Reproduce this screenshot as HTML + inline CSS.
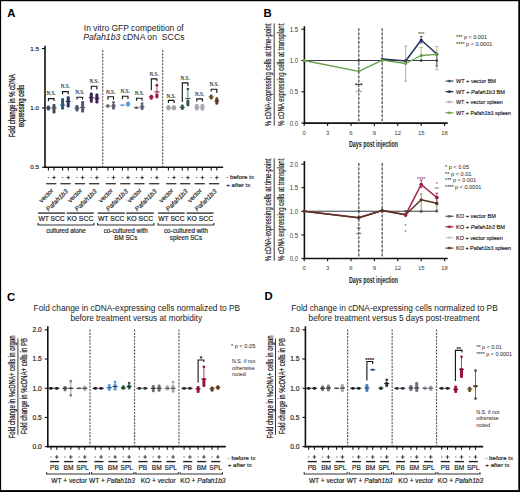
<!DOCTYPE html><html><head><meta charset="utf-8"><style>html,body{margin:0;padding:0;background:#fff;}svg{display:block;}</style></head><body>
<svg width="520" height="492" viewBox="0 0 520 492" font-family='"Liberation Sans", sans-serif'>
<rect x="0" y="0" width="520" height="492" fill="#fff"/>
<rect x="0" y="0" width="520" height="1.2" fill="#000"/><rect x="0" y="0" width="1.1" height="492" fill="#000"/><rect x="518.3" y="0" width="1.7" height="492" fill="#000"/><rect x="0" y="490.1" width="520" height="1.9" fill="#000"/>
<text x="7.30" y="17.20" font-size="11.3" text-anchor="start" fill="#000" font-weight="bold">A</text>
<text x="263.60" y="17.40" font-size="11.3" text-anchor="start" fill="#000" font-weight="bold">B</text>
<text x="7.00" y="300.60" font-size="11.3" text-anchor="start" fill="#000" font-weight="bold">C</text>
<text x="264.60" y="300.20" font-size="11.3" text-anchor="start" fill="#000" font-weight="bold">D</text>
<text x="83.80" y="30.60" font-size="8.45" text-anchor="start" fill="#1a1a1a" textLength="99.90" lengthAdjust="spacingAndGlyphs">In vitro GFP competition of</text>
<text x="83.20" y="40.10" font-size="8.45" text-anchor="start" fill="#1a1a1a" textLength="101.30" lengthAdjust="spacingAndGlyphs"><tspan font-style="italic">Pafah1b3</tspan> cDNA on&#160; SCCs</text>
<line x1="45.00" y1="45.70" x2="45.00" y2="167.95" stroke="#111" stroke-width="1.6"/>
<line x1="44.20" y1="167.25" x2="223.20" y2="167.25" stroke="#111" stroke-width="1.6"/>
<line x1="42.00" y1="48.55" x2="45.00" y2="48.55" stroke="#111" stroke-width="1.1"/>
<text x="38.90" y="50.75" font-size="6.2" text-anchor="end" fill="#1a1a1a" textLength="8.60" lengthAdjust="spacingAndGlyphs" stroke="#1a1a1a" stroke-width="0.16">1.5</text>
<line x1="42.00" y1="107.90" x2="45.00" y2="107.90" stroke="#111" stroke-width="1.1"/>
<text x="38.90" y="110.10" font-size="6.2" text-anchor="end" fill="#1a1a1a" textLength="8.60" lengthAdjust="spacingAndGlyphs" stroke="#1a1a1a" stroke-width="0.16">1.0</text>
<line x1="42.00" y1="167.25" x2="45.00" y2="167.25" stroke="#111" stroke-width="1.1"/>
<text x="38.90" y="169.45" font-size="6.2" text-anchor="end" fill="#1a1a1a" textLength="8.60" lengthAdjust="spacingAndGlyphs" stroke="#1a1a1a" stroke-width="0.16">0.5</text>
<g transform="translate(14.80,105.90) rotate(-90)">
<text x="0.00" y="0.00" font-size="8.8" text-anchor="middle" fill="#1a1a1a" textLength="63.00" lengthAdjust="spacingAndGlyphs" stroke="#1a1a1a" stroke-width="0.3">Fold change in % cDNA</text>
</g>
<g transform="translate(24.30,106.00) rotate(-90)">
<text x="0.00" y="0.00" font-size="8.8" text-anchor="middle" fill="#1a1a1a" textLength="42.50" lengthAdjust="spacingAndGlyphs" stroke="#1a1a1a" stroke-width="0.3">expressing cells</text>
</g>
<line x1="102.70" y1="50.00" x2="102.70" y2="167.25" stroke="#606060" stroke-width="1.2" stroke-dasharray="2.1 1.2"/>
<line x1="162.60" y1="50.00" x2="162.60" y2="167.25" stroke="#606060" stroke-width="1.2" stroke-dasharray="2.1 1.2"/>
<rect x="46.90" y="105.50" width="3.0" height="4.90" rx="1.2" fill="#3e4656"/>
<line x1="45.90" y1="108.00" x2="50.90" y2="108.00" stroke="#3e4656" stroke-width="1.1"/>
<rect x="52.50" y="103.90" width="3.0" height="9.60" rx="1.2" fill="#434b5b"/>
<line x1="51.50" y1="108.00" x2="56.50" y2="108.00" stroke="#434b5b" stroke-width="1.1"/>
<path d="M48.40 101.30 V98.60 H54.00 V100.90" fill="none" stroke="#111" stroke-width="1.1"/>
<text x="51.20" y="95.40" font-size="5.4" text-anchor="middle" fill="#111" font-family='"Liberation Serif", serif' textLength="9.20" lengthAdjust="spacingAndGlyphs" stroke="#111" stroke-width="0.1">N.S.</text>
<line x1="48.40" y1="167.25" x2="48.40" y2="170.45" stroke="#111" stroke-width="1.1"/>
<line x1="54.00" y1="167.25" x2="54.00" y2="170.45" stroke="#111" stroke-width="1.1"/>
<line x1="47.70" y1="177.60" x2="49.10" y2="177.60" stroke="#444" stroke-width="0.8"/>
<line x1="52.20" y1="177.60" x2="55.80" y2="177.60" stroke="#1a1a1a" stroke-width="0.8"/>
<line x1="54.00" y1="175.70" x2="54.00" y2="179.50" stroke="#1a1a1a" stroke-width="0.8"/>
<line x1="46.20" y1="183.70" x2="56.40" y2="183.70" stroke="#333" stroke-width="1.3"/>
<g transform="translate(53.80,191.00) rotate(-45)">
<text x="0.00" y="0.00" font-size="6.3" text-anchor="end" fill="#1a1a1a" textLength="17.00" lengthAdjust="spacingAndGlyphs" stroke="#1a1a1a" stroke-width="0.16">vector</text>
</g>
<rect x="61.10" y="98.00" width="3.0" height="11.60" rx="1.2" fill="#2b5a78"/>
<line x1="60.10" y1="105.20" x2="65.10" y2="105.20" stroke="#2b5a78" stroke-width="1.1"/>
<rect x="66.70" y="96.30" width="3.0" height="11.10" rx="1.2" fill="#2b3262"/>
<line x1="65.70" y1="101.40" x2="70.70" y2="101.40" stroke="#2b3262" stroke-width="1.1"/>
<path d="M62.60 94.20 V91.60 H68.20 V94.20" fill="none" stroke="#111" stroke-width="1.1"/>
<text x="65.40" y="87.80" font-size="5.4" text-anchor="middle" fill="#111" font-family='"Liberation Serif", serif' textLength="9.20" lengthAdjust="spacingAndGlyphs" stroke="#111" stroke-width="0.1">N.S.</text>
<line x1="62.60" y1="167.25" x2="62.60" y2="170.45" stroke="#111" stroke-width="1.1"/>
<line x1="68.20" y1="167.25" x2="68.20" y2="170.45" stroke="#111" stroke-width="1.1"/>
<line x1="61.90" y1="177.60" x2="63.30" y2="177.60" stroke="#444" stroke-width="0.8"/>
<line x1="66.40" y1="177.60" x2="70.00" y2="177.60" stroke="#1a1a1a" stroke-width="0.8"/>
<line x1="68.20" y1="175.70" x2="68.20" y2="179.50" stroke="#1a1a1a" stroke-width="0.8"/>
<line x1="60.40" y1="183.70" x2="70.60" y2="183.70" stroke="#333" stroke-width="1.3"/>
<g transform="translate(68.40,191.80) rotate(-45)">
<text x="0.00" y="0.00" font-size="6.3" text-anchor="end" fill="#1a1a1a" font-style="italic" textLength="28.00" lengthAdjust="spacingAndGlyphs" stroke="#1a1a1a" stroke-width="0.16">Pafah1b3</text>
</g>
<rect x="75.50" y="105.00" width="3.0" height="6.40" rx="1.2" fill="#4e4e68"/>
<line x1="74.50" y1="108.20" x2="79.50" y2="108.20" stroke="#4e4e68" stroke-width="1.1"/>
<rect x="81.10" y="101.00" width="3.0" height="11.60" rx="1.2" fill="#555570"/>
<line x1="80.10" y1="107.50" x2="85.10" y2="107.50" stroke="#555570" stroke-width="1.1"/>
<path d="M77.00 99.60 V97.20 H82.60 V99.60" fill="none" stroke="#111" stroke-width="1.1"/>
<text x="79.80" y="94.10" font-size="5.4" text-anchor="middle" fill="#111" font-family='"Liberation Serif", serif' textLength="9.20" lengthAdjust="spacingAndGlyphs" stroke="#111" stroke-width="0.1">N.S.</text>
<line x1="77.00" y1="167.25" x2="77.00" y2="170.45" stroke="#111" stroke-width="1.1"/>
<line x1="82.60" y1="167.25" x2="82.60" y2="170.45" stroke="#111" stroke-width="1.1"/>
<line x1="76.30" y1="177.60" x2="77.70" y2="177.60" stroke="#444" stroke-width="0.8"/>
<line x1="80.80" y1="177.60" x2="84.40" y2="177.60" stroke="#1a1a1a" stroke-width="0.8"/>
<line x1="82.60" y1="175.70" x2="82.60" y2="179.50" stroke="#1a1a1a" stroke-width="0.8"/>
<line x1="74.80" y1="183.70" x2="85.00" y2="183.70" stroke="#333" stroke-width="1.3"/>
<g transform="translate(82.40,191.00) rotate(-45)">
<text x="0.00" y="0.00" font-size="6.3" text-anchor="end" fill="#1a1a1a" textLength="17.00" lengthAdjust="spacingAndGlyphs" stroke="#1a1a1a" stroke-width="0.16">vector</text>
</g>
<rect x="89.80" y="92.40" width="3.0" height="10.40" rx="1.2" fill="#3e2454"/>
<line x1="88.80" y1="97.60" x2="93.80" y2="97.60" stroke="#3e2454" stroke-width="1.1"/>
<rect x="95.40" y="93.60" width="3.0" height="9.80" rx="1.2" fill="#3a2050"/>
<line x1="94.40" y1="98.40" x2="99.40" y2="98.40" stroke="#3a2050" stroke-width="1.1"/>
<path d="M91.30 89.40 V86.30 H96.90 V89.40" fill="none" stroke="#111" stroke-width="1.1"/>
<text x="94.10" y="83.30" font-size="5.4" text-anchor="middle" fill="#111" font-family='"Liberation Serif", serif' textLength="9.20" lengthAdjust="spacingAndGlyphs" stroke="#111" stroke-width="0.1">N.S.</text>
<line x1="91.30" y1="167.25" x2="91.30" y2="170.45" stroke="#111" stroke-width="1.1"/>
<line x1="96.90" y1="167.25" x2="96.90" y2="170.45" stroke="#111" stroke-width="1.1"/>
<line x1="90.60" y1="177.60" x2="92.00" y2="177.60" stroke="#444" stroke-width="0.8"/>
<line x1="95.10" y1="177.60" x2="98.70" y2="177.60" stroke="#1a1a1a" stroke-width="0.8"/>
<line x1="96.90" y1="175.70" x2="96.90" y2="179.50" stroke="#1a1a1a" stroke-width="0.8"/>
<line x1="89.10" y1="183.70" x2="99.30" y2="183.70" stroke="#333" stroke-width="1.3"/>
<g transform="translate(97.10,191.80) rotate(-45)">
<text x="0.00" y="0.00" font-size="6.3" text-anchor="end" fill="#1a1a1a" font-style="italic" textLength="28.00" lengthAdjust="spacingAndGlyphs" stroke="#1a1a1a" stroke-width="0.16">Pafah1b3</text>
</g>
<rect x="106.40" y="104.30" width="3.0" height="3.50" rx="1.2" fill="#5f6470"/>
<line x1="105.40" y1="106.00" x2="110.40" y2="106.00" stroke="#5f6470" stroke-width="1.1"/>
<line x1="113.50" y1="102.00" x2="113.50" y2="109.50" stroke="#606572" stroke-width="0.8"/>
<rect x="112.00" y="103.50" width="3.0" height="6.00" rx="1.2" fill="#606572"/>
<circle cx="113.50" cy="102.30" r="1.35" fill="#606572"/>
<line x1="111.00" y1="106.00" x2="116.00" y2="106.00" stroke="#606572" stroke-width="1.1"/>
<path d="M107.90 99.70 V96.80 H113.50 V99.70" fill="none" stroke="#111" stroke-width="1.1"/>
<text x="110.70" y="94.00" font-size="5.4" text-anchor="middle" fill="#111" font-family='"Liberation Serif", serif' textLength="9.20" lengthAdjust="spacingAndGlyphs" stroke="#111" stroke-width="0.1">N.S.</text>
<line x1="107.90" y1="167.25" x2="107.90" y2="170.45" stroke="#111" stroke-width="1.1"/>
<line x1="113.50" y1="167.25" x2="113.50" y2="170.45" stroke="#111" stroke-width="1.1"/>
<line x1="107.20" y1="177.60" x2="108.60" y2="177.60" stroke="#444" stroke-width="0.8"/>
<line x1="111.70" y1="177.60" x2="115.30" y2="177.60" stroke="#1a1a1a" stroke-width="0.8"/>
<line x1="113.50" y1="175.70" x2="113.50" y2="179.50" stroke="#1a1a1a" stroke-width="0.8"/>
<line x1="105.70" y1="183.70" x2="115.90" y2="183.70" stroke="#333" stroke-width="1.3"/>
<g transform="translate(113.30,191.00) rotate(-45)">
<text x="0.00" y="0.00" font-size="6.3" text-anchor="end" fill="#1a1a1a" textLength="17.00" lengthAdjust="spacingAndGlyphs" stroke="#1a1a1a" stroke-width="0.16">vector</text>
</g>
<rect x="120.90" y="104.30" width="3.0" height="1.90" rx="1.2" fill="#6aa0d2"/>
<line x1="119.90" y1="105.20" x2="124.90" y2="105.20" stroke="#6aa0d2" stroke-width="1.1"/>
<rect x="126.50" y="101.40" width="3.0" height="5.20" rx="1.2" fill="#5a90c8"/>
<line x1="125.50" y1="104.00" x2="130.50" y2="104.00" stroke="#5a90c8" stroke-width="1.1"/>
<path d="M122.40 99.00 V96.30 H128.00 V99.00" fill="none" stroke="#111" stroke-width="1.1"/>
<text x="125.20" y="93.40" font-size="5.4" text-anchor="middle" fill="#111" font-family='"Liberation Serif", serif' textLength="9.20" lengthAdjust="spacingAndGlyphs" stroke="#111" stroke-width="0.1">N.S.</text>
<line x1="122.40" y1="167.25" x2="122.40" y2="170.45" stroke="#111" stroke-width="1.1"/>
<line x1="128.00" y1="167.25" x2="128.00" y2="170.45" stroke="#111" stroke-width="1.1"/>
<line x1="121.70" y1="177.60" x2="123.10" y2="177.60" stroke="#444" stroke-width="0.8"/>
<line x1="126.20" y1="177.60" x2="129.80" y2="177.60" stroke="#1a1a1a" stroke-width="0.8"/>
<line x1="128.00" y1="175.70" x2="128.00" y2="179.50" stroke="#1a1a1a" stroke-width="0.8"/>
<line x1="120.20" y1="183.70" x2="130.40" y2="183.70" stroke="#333" stroke-width="1.3"/>
<g transform="translate(128.20,191.80) rotate(-45)">
<text x="0.00" y="0.00" font-size="6.3" text-anchor="end" fill="#1a1a1a" font-style="italic" textLength="28.00" lengthAdjust="spacingAndGlyphs" stroke="#1a1a1a" stroke-width="0.16">Pafah1b3</text>
</g>
<rect x="135.00" y="106.60" width="3.0" height="2.20" rx="1.2" fill="#5a5a6a"/>
<line x1="134.00" y1="107.80" x2="139.00" y2="107.80" stroke="#5a5a6a" stroke-width="1.1"/>
<line x1="142.10" y1="103.20" x2="142.10" y2="110.00" stroke="#5e6070" stroke-width="0.8"/>
<rect x="140.60" y="104.50" width="3.0" height="5.50" rx="1.2" fill="#5e6070"/>
<circle cx="142.10" cy="103.60" r="1.35" fill="#5e6070"/>
<line x1="139.60" y1="107.00" x2="144.60" y2="107.00" stroke="#5e6070" stroke-width="1.1"/>
<path d="M136.50 100.80 V98.20 H142.10 V100.80" fill="none" stroke="#111" stroke-width="1.1"/>
<text x="139.30" y="94.60" font-size="5.4" text-anchor="middle" fill="#111" font-family='"Liberation Serif", serif' textLength="9.20" lengthAdjust="spacingAndGlyphs" stroke="#111" stroke-width="0.1">N.S.</text>
<line x1="136.50" y1="167.25" x2="136.50" y2="170.45" stroke="#111" stroke-width="1.1"/>
<line x1="142.10" y1="167.25" x2="142.10" y2="170.45" stroke="#111" stroke-width="1.1"/>
<line x1="135.80" y1="177.60" x2="137.20" y2="177.60" stroke="#444" stroke-width="0.8"/>
<line x1="140.30" y1="177.60" x2="143.90" y2="177.60" stroke="#1a1a1a" stroke-width="0.8"/>
<line x1="142.10" y1="175.70" x2="142.10" y2="179.50" stroke="#1a1a1a" stroke-width="0.8"/>
<line x1="134.30" y1="183.70" x2="144.50" y2="183.70" stroke="#333" stroke-width="1.3"/>
<g transform="translate(141.90,191.00) rotate(-45)">
<text x="0.00" y="0.00" font-size="6.3" text-anchor="end" fill="#1a1a1a" textLength="17.00" lengthAdjust="spacingAndGlyphs" stroke="#1a1a1a" stroke-width="0.16">vector</text>
</g>
<rect x="149.80" y="94.80" width="3.0" height="5.00" rx="1.2" fill="#9a1840"/>
<line x1="148.80" y1="96.90" x2="153.80" y2="96.90" stroke="#9a1840" stroke-width="1.1"/>
<line x1="156.90" y1="85.20" x2="156.90" y2="98.20" stroke="#9a1840" stroke-width="0.8"/>
<rect x="155.40" y="93.50" width="3.0" height="4.70" rx="1.2" fill="#9a1840"/>
<circle cx="156.90" cy="85.20" r="1.35" fill="#9a1840"/>
<line x1="154.40" y1="91.90" x2="159.40" y2="91.90" stroke="#9a1840" stroke-width="1.1"/>
<path d="M151.30 90.30 V78.90 H156.90 V81.30" fill="none" stroke="#111" stroke-width="1.1"/>
<text x="154.10" y="76.10" font-size="5.4" text-anchor="middle" fill="#111" font-family='"Liberation Serif", serif' textLength="9.20" lengthAdjust="spacingAndGlyphs" stroke="#111" stroke-width="0.1">N.S.</text>
<line x1="151.30" y1="167.25" x2="151.30" y2="170.45" stroke="#111" stroke-width="1.1"/>
<line x1="156.90" y1="167.25" x2="156.90" y2="170.45" stroke="#111" stroke-width="1.1"/>
<line x1="150.60" y1="177.60" x2="152.00" y2="177.60" stroke="#444" stroke-width="0.8"/>
<line x1="155.10" y1="177.60" x2="158.70" y2="177.60" stroke="#1a1a1a" stroke-width="0.8"/>
<line x1="156.90" y1="175.70" x2="156.90" y2="179.50" stroke="#1a1a1a" stroke-width="0.8"/>
<line x1="149.10" y1="183.70" x2="159.30" y2="183.70" stroke="#333" stroke-width="1.3"/>
<g transform="translate(157.10,191.80) rotate(-45)">
<text x="0.00" y="0.00" font-size="6.3" text-anchor="end" fill="#1a1a1a" font-style="italic" textLength="28.00" lengthAdjust="spacingAndGlyphs" stroke="#1a1a1a" stroke-width="0.16">Pafah1b3</text>
</g>
<line x1="168.40" y1="107.90" x2="174.00" y2="107.90" stroke="#a0a0a8" stroke-width="0.9"/>
<rect x="166.60" y="105.20" width="3.6" height="5.10" rx="1.2" fill="#a0a0a8"/>
<line x1="165.90" y1="107.90" x2="170.90" y2="107.90" stroke="#a0a0a8" stroke-width="1.1"/>
<rect x="172.20" y="105.20" width="3.6" height="5.10" rx="1.2" fill="#a0a0a8"/>
<line x1="171.50" y1="107.90" x2="176.50" y2="107.90" stroke="#a0a0a8" stroke-width="1.1"/>
<path d="M168.40 103.00 V100.40 H174.00 V103.00" fill="none" stroke="#111" stroke-width="1.1"/>
<text x="171.20" y="97.60" font-size="5.4" text-anchor="middle" fill="#111" font-family='"Liberation Serif", serif' textLength="9.20" lengthAdjust="spacingAndGlyphs" stroke="#111" stroke-width="0.1">N.S.</text>
<line x1="168.40" y1="167.25" x2="168.40" y2="170.45" stroke="#111" stroke-width="1.1"/>
<line x1="174.00" y1="167.25" x2="174.00" y2="170.45" stroke="#111" stroke-width="1.1"/>
<line x1="167.70" y1="177.60" x2="169.10" y2="177.60" stroke="#444" stroke-width="0.8"/>
<line x1="172.20" y1="177.60" x2="175.80" y2="177.60" stroke="#1a1a1a" stroke-width="0.8"/>
<line x1="174.00" y1="175.70" x2="174.00" y2="179.50" stroke="#1a1a1a" stroke-width="0.8"/>
<line x1="166.20" y1="183.70" x2="176.40" y2="183.70" stroke="#333" stroke-width="1.3"/>
<g transform="translate(173.80,191.00) rotate(-45)">
<text x="0.00" y="0.00" font-size="6.3" text-anchor="end" fill="#1a1a1a" textLength="17.00" lengthAdjust="spacingAndGlyphs" stroke="#1a1a1a" stroke-width="0.16">vector</text>
</g>
<rect x="180.80" y="104.50" width="3.0" height="5.50" rx="1.2" fill="#2c5a4c"/>
<line x1="179.80" y1="107.30" x2="184.80" y2="107.30" stroke="#2c5a4c" stroke-width="1.1"/>
<line x1="187.90" y1="88.20" x2="187.90" y2="106.20" stroke="#2c5a4c" stroke-width="0.8"/>
<rect x="186.40" y="100.00" width="3.0" height="6.20" rx="1.2" fill="#2c5a4c"/>
<circle cx="187.90" cy="89.00" r="1.35" fill="#2c5a4c"/>
<line x1="185.40" y1="98.60" x2="190.40" y2="98.60" stroke="#2c5a4c" stroke-width="1.1"/>
<path d="M182.30 101.90 V82.90 H187.90 V86.00" fill="none" stroke="#111" stroke-width="1.1"/>
<text x="185.10" y="79.50" font-size="5.4" text-anchor="middle" fill="#111" font-family='"Liberation Serif", serif' textLength="9.20" lengthAdjust="spacingAndGlyphs" stroke="#111" stroke-width="0.1">N.S.</text>
<line x1="182.30" y1="167.25" x2="182.30" y2="170.45" stroke="#111" stroke-width="1.1"/>
<line x1="187.90" y1="167.25" x2="187.90" y2="170.45" stroke="#111" stroke-width="1.1"/>
<line x1="181.60" y1="177.60" x2="183.00" y2="177.60" stroke="#444" stroke-width="0.8"/>
<line x1="186.10" y1="177.60" x2="189.70" y2="177.60" stroke="#1a1a1a" stroke-width="0.8"/>
<line x1="187.90" y1="175.70" x2="187.90" y2="179.50" stroke="#1a1a1a" stroke-width="0.8"/>
<line x1="180.10" y1="183.70" x2="190.30" y2="183.70" stroke="#333" stroke-width="1.3"/>
<g transform="translate(188.10,191.80) rotate(-45)">
<text x="0.00" y="0.00" font-size="6.3" text-anchor="end" fill="#1a1a1a" font-style="italic" textLength="28.00" lengthAdjust="spacingAndGlyphs" stroke="#1a1a1a" stroke-width="0.16">Pafah1b3</text>
</g>
<line x1="196.80" y1="107.30" x2="202.40" y2="107.30" stroke="#a8a8b8" stroke-width="0.9"/>
<rect x="195.00" y="104.00" width="3.6" height="6.50" rx="1.2" fill="#a8a8b8"/>
<line x1="194.30" y1="107.30" x2="199.30" y2="107.30" stroke="#a8a8b8" stroke-width="1.1"/>
<rect x="200.60" y="104.00" width="3.6" height="6.50" rx="1.2" fill="#a8a8b8"/>
<line x1="199.90" y1="107.30" x2="204.90" y2="107.30" stroke="#a8a8b8" stroke-width="1.1"/>
<path d="M196.80 101.50 V98.90 H202.40 V101.50" fill="none" stroke="#111" stroke-width="1.1"/>
<text x="199.60" y="96.00" font-size="5.4" text-anchor="middle" fill="#111" font-family='"Liberation Serif", serif' textLength="9.20" lengthAdjust="spacingAndGlyphs" stroke="#111" stroke-width="0.1">N.S.</text>
<line x1="196.80" y1="167.25" x2="196.80" y2="170.45" stroke="#111" stroke-width="1.1"/>
<line x1="202.40" y1="167.25" x2="202.40" y2="170.45" stroke="#111" stroke-width="1.1"/>
<line x1="196.10" y1="177.60" x2="197.50" y2="177.60" stroke="#444" stroke-width="0.8"/>
<line x1="200.60" y1="177.60" x2="204.20" y2="177.60" stroke="#1a1a1a" stroke-width="0.8"/>
<line x1="202.40" y1="175.70" x2="202.40" y2="179.50" stroke="#1a1a1a" stroke-width="0.8"/>
<line x1="194.60" y1="183.70" x2="204.80" y2="183.70" stroke="#333" stroke-width="1.3"/>
<g transform="translate(202.20,191.00) rotate(-45)">
<text x="0.00" y="0.00" font-size="6.3" text-anchor="end" fill="#1a1a1a" textLength="17.00" lengthAdjust="spacingAndGlyphs" stroke="#1a1a1a" stroke-width="0.16">vector</text>
</g>
<rect x="209.70" y="94.50" width="3.0" height="5.00" rx="1.2" fill="#6e4820"/>
<line x1="208.70" y1="96.90" x2="213.70" y2="96.90" stroke="#6e4820" stroke-width="1.1"/>
<line x1="216.80" y1="96.90" x2="216.80" y2="104.60" stroke="#5a3a18" stroke-width="0.8"/>
<rect x="215.30" y="97.50" width="3.0" height="7.10" rx="1.2" fill="#5a3a18"/>
<line x1="214.30" y1="101.00" x2="219.30" y2="101.00" stroke="#5a3a18" stroke-width="1.1"/>
<path d="M211.20 91.40 V89.30 H216.80 V93.00" fill="none" stroke="#111" stroke-width="1.1"/>
<text x="214.00" y="86.10" font-size="5.4" text-anchor="middle" fill="#111" font-family='"Liberation Serif", serif' textLength="9.20" lengthAdjust="spacingAndGlyphs" stroke="#111" stroke-width="0.1">N.S.</text>
<line x1="211.20" y1="167.25" x2="211.20" y2="170.45" stroke="#111" stroke-width="1.1"/>
<line x1="216.80" y1="167.25" x2="216.80" y2="170.45" stroke="#111" stroke-width="1.1"/>
<line x1="210.50" y1="177.60" x2="211.90" y2="177.60" stroke="#444" stroke-width="0.8"/>
<line x1="215.00" y1="177.60" x2="218.60" y2="177.60" stroke="#1a1a1a" stroke-width="0.8"/>
<line x1="216.80" y1="175.70" x2="216.80" y2="179.50" stroke="#1a1a1a" stroke-width="0.8"/>
<line x1="209.00" y1="183.70" x2="219.20" y2="183.70" stroke="#333" stroke-width="1.3"/>
<g transform="translate(217.00,191.80) rotate(-45)">
<text x="0.00" y="0.00" font-size="6.3" text-anchor="end" fill="#1a1a1a" font-style="italic" textLength="28.00" lengthAdjust="spacingAndGlyphs" stroke="#1a1a1a" stroke-width="0.16">Pafah1b3</text>
</g>
<line x1="38.10" y1="213.10" x2="65.00" y2="213.10" stroke="#333" stroke-width="1.4"/>
<text x="51.55" y="220.90" font-size="6.6" text-anchor="middle" fill="#1a1a1a" textLength="26.30" lengthAdjust="spacingAndGlyphs" stroke="#1a1a1a" stroke-width="0.16">WT SCC</text>
<line x1="66.70" y1="213.10" x2="93.70" y2="213.10" stroke="#333" stroke-width="1.4"/>
<text x="80.20" y="220.90" font-size="6.6" text-anchor="middle" fill="#1a1a1a" textLength="26.30" lengthAdjust="spacingAndGlyphs" stroke="#1a1a1a" stroke-width="0.16">KO SCC</text>
<line x1="97.60" y1="213.10" x2="124.80" y2="213.10" stroke="#333" stroke-width="1.4"/>
<text x="111.20" y="220.90" font-size="6.6" text-anchor="middle" fill="#1a1a1a" textLength="26.30" lengthAdjust="spacingAndGlyphs" stroke="#1a1a1a" stroke-width="0.16">WT SCC</text>
<line x1="126.20" y1="213.10" x2="153.70" y2="213.10" stroke="#333" stroke-width="1.4"/>
<text x="139.95" y="220.90" font-size="6.6" text-anchor="middle" fill="#1a1a1a" textLength="26.30" lengthAdjust="spacingAndGlyphs" stroke="#1a1a1a" stroke-width="0.16">KO SCC</text>
<line x1="158.10" y1="213.10" x2="184.70" y2="213.10" stroke="#333" stroke-width="1.4"/>
<text x="171.40" y="220.90" font-size="6.6" text-anchor="middle" fill="#1a1a1a" textLength="26.30" lengthAdjust="spacingAndGlyphs" stroke="#1a1a1a" stroke-width="0.16">WT SCC</text>
<line x1="186.50" y1="213.10" x2="213.60" y2="213.10" stroke="#333" stroke-width="1.4"/>
<text x="200.05" y="220.90" font-size="6.6" text-anchor="middle" fill="#1a1a1a" textLength="26.30" lengthAdjust="spacingAndGlyphs" stroke="#1a1a1a" stroke-width="0.16">KO SCC</text>
<path d="M38.10 223.0 V225.0 H93.90 V223.0" fill="none" stroke="#333" stroke-width="1.2"/>
<text x="66.00" y="232.80" font-size="6.3" text-anchor="middle" fill="#1a1a1a" stroke="#1a1a1a" stroke-width="0.16">cultured alone</text>
<path d="M97.60 223.0 V225.0 H153.90 V223.0" fill="none" stroke="#333" stroke-width="1.2"/>
<text x="125.75" y="232.80" font-size="6.3" text-anchor="middle" fill="#1a1a1a" stroke="#1a1a1a" stroke-width="0.16">co-cultured with</text>
<text x="125.75" y="240.40" font-size="6.3" text-anchor="middle" fill="#1a1a1a" stroke="#1a1a1a" stroke-width="0.16">BM SCs</text>
<path d="M158.10 223.0 V225.0 H213.80 V223.0" fill="none" stroke="#333" stroke-width="1.2"/>
<text x="185.95" y="232.80" font-size="6.3" text-anchor="middle" fill="#1a1a1a" stroke="#1a1a1a" stroke-width="0.16">co-cultured with</text>
<text x="185.95" y="240.40" font-size="6.3" text-anchor="middle" fill="#1a1a1a" stroke="#1a1a1a" stroke-width="0.16">spleen SCs</text>
<text x="226.20" y="179.20" font-size="6.2" text-anchor="start" fill="#1a1a1a" stroke="#1a1a1a" stroke-width="0.16">- before tx</text>
<text x="226.20" y="187.00" font-size="6.2" text-anchor="start" fill="#1a1a1a" stroke="#1a1a1a" stroke-width="0.16">+ after tx</text>
<line x1="304.40" y1="26.20" x2="304.40" y2="123.80" stroke="#111" stroke-width="1.6"/>
<line x1="303.60" y1="123.10" x2="447.70" y2="123.10" stroke="#111" stroke-width="1.6"/>
<line x1="301.40" y1="29.20" x2="304.40" y2="29.20" stroke="#111" stroke-width="1.1"/>
<text x="298.00" y="31.80" font-size="6.3" text-anchor="end" fill="#383838" textLength="8.30" lengthAdjust="spacingAndGlyphs">1.5</text>
<line x1="301.40" y1="60.50" x2="304.40" y2="60.50" stroke="#111" stroke-width="1.1"/>
<text x="298.00" y="63.10" font-size="6.3" text-anchor="end" fill="#383838" textLength="8.30" lengthAdjust="spacingAndGlyphs">1.0</text>
<line x1="301.40" y1="91.80" x2="304.40" y2="91.80" stroke="#111" stroke-width="1.1"/>
<text x="298.00" y="94.40" font-size="6.3" text-anchor="end" fill="#383838" textLength="8.30" lengthAdjust="spacingAndGlyphs">0.5</text>
<line x1="301.40" y1="123.10" x2="304.40" y2="123.10" stroke="#111" stroke-width="1.1"/>
<text x="298.00" y="125.70" font-size="6.3" text-anchor="end" fill="#383838" textLength="8.30" lengthAdjust="spacingAndGlyphs">0.0</text>
<line x1="304.20" y1="123.10" x2="304.20" y2="125.90" stroke="#111" stroke-width="1.1"/>
<text x="304.20" y="135.00" font-size="5.9" text-anchor="middle" fill="#383838">0</text>
<line x1="327.60" y1="123.10" x2="327.60" y2="125.90" stroke="#111" stroke-width="1.1"/>
<text x="327.60" y="135.00" font-size="5.9" text-anchor="middle" fill="#383838">3</text>
<line x1="351.00" y1="123.10" x2="351.00" y2="125.90" stroke="#111" stroke-width="1.1"/>
<text x="351.00" y="135.00" font-size="5.9" text-anchor="middle" fill="#383838">6</text>
<line x1="374.40" y1="123.10" x2="374.40" y2="125.90" stroke="#111" stroke-width="1.1"/>
<text x="374.40" y="135.00" font-size="5.9" text-anchor="middle" fill="#383838">9</text>
<line x1="397.80" y1="123.10" x2="397.80" y2="125.90" stroke="#111" stroke-width="1.1"/>
<text x="397.80" y="135.00" font-size="5.9" text-anchor="middle" fill="#383838">12</text>
<line x1="421.20" y1="123.10" x2="421.20" y2="125.90" stroke="#111" stroke-width="1.1"/>
<text x="421.20" y="135.00" font-size="5.9" text-anchor="middle" fill="#383838">15</text>
<line x1="444.60" y1="123.10" x2="444.60" y2="125.90" stroke="#111" stroke-width="1.1"/>
<text x="444.60" y="135.00" font-size="5.9" text-anchor="middle" fill="#383838">18</text>
<text x="373.50" y="147.10" font-size="9.0" text-anchor="middle" fill="#1a1a1a" font-weight="bold" textLength="49.00" lengthAdjust="spacingAndGlyphs">Days post injection</text>
<line x1="358.80" y1="28.20" x2="358.80" y2="123.10" stroke="#d4d4d4" stroke-width="0.7"/>
<line x1="358.80" y1="28.20" x2="358.80" y2="123.10" stroke="#505050" stroke-width="1.2" stroke-dasharray="2.8 1.5"/>
<line x1="382.20" y1="28.20" x2="382.20" y2="123.10" stroke="#d4d4d4" stroke-width="0.7"/>
<line x1="382.20" y1="28.20" x2="382.20" y2="123.10" stroke="#505050" stroke-width="1.2" stroke-dasharray="2.8 1.5"/>
<g transform="translate(271.10,74.85) rotate(-90)">
<text x="0.00" y="0.00" font-size="8.7" text-anchor="middle" fill="#1a1a1a" textLength="102.70" lengthAdjust="spacingAndGlyphs" stroke="#1a1a1a" stroke-width="0.18">% cDNA-expressing cells at time-point</text>
</g>
<g transform="translate(283.50,74.85) rotate(-90)">
<text x="0.00" y="0.00" font-size="8.7" text-anchor="middle" fill="#1a1a1a" textLength="102.40" lengthAdjust="spacingAndGlyphs" stroke="#1a1a1a" stroke-width="0.18">% cDNA expressing cells at transplant</text>
</g>
<line x1="274.20" y1="23.35" x2="274.20" y2="125.85" stroke="#222" stroke-width="0.9"/>
<line x1="304.40" y1="161.10" x2="304.40" y2="259.20" stroke="#111" stroke-width="1.6"/>
<line x1="303.60" y1="258.50" x2="447.70" y2="258.50" stroke="#111" stroke-width="1.6"/>
<line x1="301.40" y1="164.10" x2="304.40" y2="164.10" stroke="#111" stroke-width="1.1"/>
<text x="298.00" y="166.70" font-size="6.3" text-anchor="end" fill="#383838" textLength="8.30" lengthAdjust="spacingAndGlyphs">2.0</text>
<line x1="301.40" y1="187.70" x2="304.40" y2="187.70" stroke="#111" stroke-width="1.1"/>
<text x="298.00" y="190.30" font-size="6.3" text-anchor="end" fill="#383838" textLength="8.30" lengthAdjust="spacingAndGlyphs">1.5</text>
<line x1="301.40" y1="211.30" x2="304.40" y2="211.30" stroke="#111" stroke-width="1.1"/>
<text x="298.00" y="213.90" font-size="6.3" text-anchor="end" fill="#383838" textLength="8.30" lengthAdjust="spacingAndGlyphs">1.0</text>
<line x1="301.40" y1="234.90" x2="304.40" y2="234.90" stroke="#111" stroke-width="1.1"/>
<text x="298.00" y="237.50" font-size="6.3" text-anchor="end" fill="#383838" textLength="8.30" lengthAdjust="spacingAndGlyphs">0.5</text>
<line x1="301.40" y1="258.50" x2="304.40" y2="258.50" stroke="#111" stroke-width="1.1"/>
<text x="298.00" y="261.10" font-size="6.3" text-anchor="end" fill="#383838" textLength="8.30" lengthAdjust="spacingAndGlyphs">0.0</text>
<line x1="304.20" y1="258.50" x2="304.20" y2="261.30" stroke="#111" stroke-width="1.1"/>
<text x="304.20" y="270.40" font-size="5.9" text-anchor="middle" fill="#383838">0</text>
<line x1="327.60" y1="258.50" x2="327.60" y2="261.30" stroke="#111" stroke-width="1.1"/>
<text x="327.60" y="270.40" font-size="5.9" text-anchor="middle" fill="#383838">3</text>
<line x1="351.00" y1="258.50" x2="351.00" y2="261.30" stroke="#111" stroke-width="1.1"/>
<text x="351.00" y="270.40" font-size="5.9" text-anchor="middle" fill="#383838">6</text>
<line x1="374.40" y1="258.50" x2="374.40" y2="261.30" stroke="#111" stroke-width="1.1"/>
<text x="374.40" y="270.40" font-size="5.9" text-anchor="middle" fill="#383838">9</text>
<line x1="397.80" y1="258.50" x2="397.80" y2="261.30" stroke="#111" stroke-width="1.1"/>
<text x="397.80" y="270.40" font-size="5.9" text-anchor="middle" fill="#383838">12</text>
<line x1="421.20" y1="258.50" x2="421.20" y2="261.30" stroke="#111" stroke-width="1.1"/>
<text x="421.20" y="270.40" font-size="5.9" text-anchor="middle" fill="#383838">15</text>
<line x1="444.60" y1="258.50" x2="444.60" y2="261.30" stroke="#111" stroke-width="1.1"/>
<text x="444.60" y="270.40" font-size="5.9" text-anchor="middle" fill="#383838">18</text>
<text x="373.50" y="282.50" font-size="9.0" text-anchor="middle" fill="#1a1a1a" font-weight="bold" textLength="49.00" lengthAdjust="spacingAndGlyphs">Days post injection</text>
<line x1="358.80" y1="163.10" x2="358.80" y2="258.50" stroke="#d4d4d4" stroke-width="0.7"/>
<line x1="358.80" y1="163.10" x2="358.80" y2="258.50" stroke="#505050" stroke-width="1.2" stroke-dasharray="2.8 1.5"/>
<line x1="382.20" y1="163.10" x2="382.20" y2="258.50" stroke="#d4d4d4" stroke-width="0.7"/>
<line x1="382.20" y1="163.10" x2="382.20" y2="258.50" stroke="#505050" stroke-width="1.2" stroke-dasharray="2.8 1.5"/>
<g transform="translate(271.10,209.85) rotate(-90)">
<text x="0.00" y="0.00" font-size="8.7" text-anchor="middle" fill="#1a1a1a" textLength="102.70" lengthAdjust="spacingAndGlyphs" stroke="#1a1a1a" stroke-width="0.18">% cDNA-expressing cells at time-point</text>
</g>
<g transform="translate(283.50,209.85) rotate(-90)">
<text x="0.00" y="0.00" font-size="8.7" text-anchor="middle" fill="#1a1a1a" textLength="102.40" lengthAdjust="spacingAndGlyphs" stroke="#1a1a1a" stroke-width="0.18">% cDNA expressing cells at transplant</text>
</g>
<line x1="274.20" y1="158.35" x2="274.20" y2="260.85" stroke="#222" stroke-width="0.9"/>
<line x1="405.60" y1="46.00" x2="405.60" y2="81.20" stroke="#8ab060" stroke-width="0.8"/>
<line x1="404.10" y1="46.00" x2="407.10" y2="46.00" stroke="#8ab060" stroke-width="0.8"/>
<line x1="404.10" y1="81.20" x2="407.10" y2="81.20" stroke="#8ab060" stroke-width="0.8"/>
<line x1="421.20" y1="47.40" x2="421.20" y2="61.00" stroke="#8ab060" stroke-width="0.8"/>
<line x1="419.70" y1="47.40" x2="422.70" y2="47.40" stroke="#8ab060" stroke-width="0.8"/>
<line x1="419.70" y1="61.00" x2="422.70" y2="61.00" stroke="#8ab060" stroke-width="0.8"/>
<line x1="436.80" y1="46.50" x2="436.80" y2="69.60" stroke="#8ab060" stroke-width="0.8"/>
<line x1="435.30" y1="46.50" x2="438.30" y2="46.50" stroke="#8ab060" stroke-width="0.8"/>
<line x1="435.30" y1="69.60" x2="438.30" y2="69.60" stroke="#8ab060" stroke-width="0.8"/>
<line x1="436.80" y1="55.00" x2="436.80" y2="66.00" stroke="#444c5c" stroke-width="0.8"/>
<line x1="435.30" y1="55.00" x2="438.30" y2="55.00" stroke="#444c5c" stroke-width="0.8"/>
<line x1="435.30" y1="66.00" x2="438.30" y2="66.00" stroke="#444c5c" stroke-width="0.8"/>
<line x1="421.20" y1="36.50" x2="421.20" y2="43.00" stroke="#2a3a60" stroke-width="0.8"/>
<line x1="419.70" y1="36.50" x2="422.70" y2="36.50" stroke="#2a3a60" stroke-width="0.8"/>
<line x1="419.70" y1="43.00" x2="422.70" y2="43.00" stroke="#2a3a60" stroke-width="0.8"/>
<path d="M382.20 59.00 L405.60 61.00 L421.20 40.00 L436.80 54.00" fill="none" stroke="#223260" stroke-width="1.5" stroke-linejoin="round"/>
<circle cx="382.20" cy="59.00" r="1.6" fill="#223260"/>
<circle cx="405.60" cy="61.00" r="1.6" fill="#223260"/>
<circle cx="421.20" cy="40.00" r="1.6" fill="#223260"/>
<circle cx="436.80" cy="54.00" r="1.6" fill="#223260"/>
<path d="M304.20 60.50 L358.80 60.50 L382.20 60.50 L405.60 60.50 L421.20 60.50 L436.80 60.50" fill="none" stroke="#b5b5b5" stroke-width="1.0" stroke-linejoin="round"/>
<circle cx="304.20" cy="60.50" r="1.0" fill="#b5b5b5"/>
<circle cx="358.80" cy="60.50" r="1.0" fill="#b5b5b5"/>
<circle cx="382.20" cy="60.50" r="1.0" fill="#b5b5b5"/>
<circle cx="405.60" cy="60.50" r="1.0" fill="#b5b5b5"/>
<circle cx="421.20" cy="60.50" r="1.0" fill="#b5b5b5"/>
<circle cx="436.80" cy="60.50" r="1.0" fill="#b5b5b5"/>
<path d="M304.20 60.50 L358.80 60.50 L382.20 60.50 L405.60 60.50 L421.20 60.50 L436.80 60.50" fill="none" stroke="#383e4c" stroke-width="1.1" stroke-linejoin="round"/>
<circle cx="304.20" cy="60.50" r="1.3" fill="#383e4c"/>
<circle cx="358.80" cy="60.50" r="1.3" fill="#383e4c"/>
<circle cx="382.20" cy="60.50" r="1.3" fill="#383e4c"/>
<circle cx="405.60" cy="60.50" r="1.3" fill="#383e4c"/>
<circle cx="421.20" cy="60.50" r="1.3" fill="#383e4c"/>
<circle cx="436.80" cy="60.50" r="1.3" fill="#383e4c"/>
<path d="M304.20 60.50 L358.80 71.30 L382.20 60.20 L405.60 63.50 L421.20 55.50 L436.80 54.30" fill="none" stroke="#64a048" stroke-width="1.3" stroke-linejoin="round"/>
<circle cx="304.20" cy="60.50" r="1.5" fill="#64a048"/>
<circle cx="358.80" cy="71.30" r="1.5" fill="#64a048"/>
<circle cx="382.20" cy="60.20" r="1.5" fill="#64a048"/>
<circle cx="405.60" cy="63.50" r="1.5" fill="#64a048"/>
<circle cx="421.20" cy="55.50" r="1.5" fill="#64a048"/>
<circle cx="436.80" cy="54.30" r="1.5" fill="#64a048"/>
<line x1="355.10" y1="84.30" x2="362.50" y2="84.30" stroke="#2a3450" stroke-width="1.0"/>
<line x1="356.30" y1="83.20" x2="356.30" y2="85.40" stroke="#2a3450" stroke-width="0.7"/>
<line x1="361.30" y1="83.20" x2="361.30" y2="85.40" stroke="#2a3450" stroke-width="0.7"/>
<line x1="355.80" y1="91.50" x2="361.80" y2="91.50" stroke="#a8a890" stroke-width="0.9"/>
<line x1="356.80" y1="90.40" x2="356.80" y2="92.60" stroke="#a8a890" stroke-width="0.7"/>
<line x1="360.80" y1="90.40" x2="360.80" y2="92.60" stroke="#a8a890" stroke-width="0.7"/>
<text x="421.20" y="36.30" font-size="5.5" text-anchor="middle" fill="#223260">***</text>
<text x="456.00" y="39.00" font-size="6.0" text-anchor="start" fill="#1a1a1a" textLength="31.00" lengthAdjust="spacingAndGlyphs">*** p &lt; 0.001</text>
<text x="456.00" y="45.80" font-size="6.0" text-anchor="start" fill="#1a1a1a" textLength="36.30" lengthAdjust="spacingAndGlyphs">**** p &lt; 0.0001</text>
<line x1="445.60" y1="81.10" x2="453.40" y2="81.10" stroke="#4a5264" stroke-width="1.3"/>
<circle cx="449.5" cy="81.1" r="1.4" fill="#4a5264"/>
<text x="456.00" y="83.20" font-size="6.2" text-anchor="start" fill="#1a1a1a" textLength="40.00" lengthAdjust="spacingAndGlyphs" stroke="#1a1a1a" stroke-width="0.16">WT + vector BM</text>
<line x1="445.60" y1="91.70" x2="453.40" y2="91.70" stroke="#223260" stroke-width="1.3"/>
<circle cx="449.5" cy="91.7" r="1.4" fill="#223260"/>
<text x="456.00" y="93.80" font-size="6.2" text-anchor="start" fill="#1a1a1a" textLength="49.00" lengthAdjust="spacingAndGlyphs" stroke="#1a1a1a" stroke-width="0.16">WT + <tspan font-style="italic">Pafah1b3</tspan> BM</text>
<line x1="445.60" y1="102.00" x2="453.40" y2="102.00" stroke="#b5b5b5" stroke-width="1.3"/>
<circle cx="449.5" cy="102.0" r="1.4" fill="#b5b5b5"/>
<text x="456.00" y="104.10" font-size="6.2" text-anchor="start" fill="#1a1a1a" textLength="46.70" lengthAdjust="spacingAndGlyphs" stroke="#1a1a1a" stroke-width="0.16">WT + vector spleen</text>
<line x1="445.60" y1="112.80" x2="453.40" y2="112.80" stroke="#6aa443" stroke-width="1.3"/>
<circle cx="449.5" cy="112.8" r="1.4" fill="#6aa443"/>
<text x="456.00" y="114.90" font-size="6.2" text-anchor="start" fill="#1a1a1a" textLength="55.00" lengthAdjust="spacingAndGlyphs" stroke="#1a1a1a" stroke-width="0.16">WT + Pafah1b3 spleen</text>
<line x1="421.20" y1="194.00" x2="421.20" y2="212.00" stroke="#8a7a30" stroke-width="0.8"/>
<line x1="419.70" y1="194.00" x2="422.70" y2="194.00" stroke="#8a7a30" stroke-width="0.8"/>
<line x1="419.70" y1="212.00" x2="422.70" y2="212.00" stroke="#8a7a30" stroke-width="0.8"/>
<line x1="436.80" y1="197.00" x2="436.80" y2="210.00" stroke="#8a7a30" stroke-width="0.8"/>
<line x1="435.30" y1="197.00" x2="438.30" y2="197.00" stroke="#8a7a30" stroke-width="0.8"/>
<line x1="435.30" y1="210.00" x2="438.30" y2="210.00" stroke="#8a7a30" stroke-width="0.8"/>
<path d="M304.20 211.30 L358.80 211.30 L382.20 211.30 L405.60 211.30 L421.20 211.30 L436.80 211.30" fill="none" stroke="#c0c8c8" stroke-width="1.0" stroke-linejoin="round"/>
<circle cx="304.20" cy="211.30" r="1.0" fill="#c0c8c8"/>
<circle cx="358.80" cy="211.30" r="1.0" fill="#c0c8c8"/>
<circle cx="382.20" cy="211.30" r="1.0" fill="#c0c8c8"/>
<circle cx="405.60" cy="211.30" r="1.0" fill="#c0c8c8"/>
<circle cx="421.20" cy="211.30" r="1.0" fill="#c0c8c8"/>
<circle cx="436.80" cy="211.30" r="1.0" fill="#c0c8c8"/>
<path d="M304.20 211.30 L358.80 211.30 L382.20 211.30 L405.60 211.30 L421.20 211.30 L436.80 211.30" fill="none" stroke="#4a505c" stroke-width="1.1" stroke-linejoin="round"/>
<circle cx="304.20" cy="211.30" r="1.3" fill="#4a505c"/>
<circle cx="358.80" cy="211.30" r="1.3" fill="#4a505c"/>
<circle cx="382.20" cy="211.30" r="1.3" fill="#4a505c"/>
<circle cx="405.60" cy="211.30" r="1.3" fill="#4a505c"/>
<circle cx="421.20" cy="211.30" r="1.3" fill="#4a505c"/>
<circle cx="436.80" cy="211.30" r="1.3" fill="#4a505c"/>
<line x1="421.20" y1="180.00" x2="421.20" y2="187.40" stroke="#a01c48" stroke-width="0.8"/>
<line x1="419.70" y1="180.00" x2="422.70" y2="180.00" stroke="#a01c48" stroke-width="0.8"/>
<line x1="419.70" y1="187.40" x2="422.70" y2="187.40" stroke="#a01c48" stroke-width="0.8"/>
<line x1="436.80" y1="193.20" x2="436.80" y2="204.70" stroke="#a01c48" stroke-width="0.8"/>
<line x1="435.30" y1="193.20" x2="438.30" y2="193.20" stroke="#a01c48" stroke-width="0.8"/>
<line x1="435.30" y1="204.70" x2="438.30" y2="204.70" stroke="#a01c48" stroke-width="0.8"/>
<path d="M304.20 211.30 L358.80 217.70 L382.20 210.50 L405.60 214.80 L421.20 184.50 L436.80 197.50" fill="none" stroke="#a01c48" stroke-width="1.5" stroke-linejoin="round"/>
<circle cx="304.20" cy="211.30" r="1.6" fill="#a01c48"/>
<circle cx="358.80" cy="217.70" r="1.6" fill="#a01c48"/>
<circle cx="382.20" cy="210.50" r="1.6" fill="#a01c48"/>
<circle cx="405.60" cy="214.80" r="1.6" fill="#a01c48"/>
<circle cx="421.20" cy="184.50" r="1.6" fill="#a01c48"/>
<circle cx="436.80" cy="197.50" r="1.6" fill="#a01c48"/>
<path d="M304.20 211.30 L358.80 217.70 L382.20 210.50 L405.60 214.80 L421.20 199.80 L436.80 203.30" fill="none" stroke="#553520" stroke-width="1.5" stroke-linejoin="round"/>
<circle cx="304.20" cy="211.30" r="1.6" fill="#553520"/>
<circle cx="358.80" cy="217.70" r="1.6" fill="#553520"/>
<circle cx="382.20" cy="210.50" r="1.6" fill="#553520"/>
<circle cx="405.60" cy="214.80" r="1.6" fill="#553520"/>
<circle cx="421.20" cy="199.80" r="1.6" fill="#553520"/>
<circle cx="436.80" cy="203.30" r="1.6" fill="#553520"/>
<circle cx="405.60" cy="215.20" r="1.7" fill="#a01c48"/>
<circle cx="421.20" cy="184.50" r="1.7" fill="#a01c48"/>
<circle cx="436.80" cy="197.50" r="1.7" fill="#a01c48"/>
<text x="421.20" y="180.50" font-size="5.5" text-anchor="middle" fill="#a01c48">****</text>
<text x="436.80" y="185.70" font-size="5.5" text-anchor="middle" fill="#a01c48">*</text>
<text x="436.80" y="190.60" font-size="5.5" text-anchor="middle" fill="#a01c48">**</text>
<text x="358.80" y="231.00" font-size="5.0" text-anchor="middle" fill="#503838">**</text>
<line x1="356.20" y1="233.50" x2="361.40" y2="233.50" stroke="#8a7a6a" stroke-width="0.8"/>
<line x1="357.20" y1="232.50" x2="357.20" y2="234.50" stroke="#8a7a6a" stroke-width="0.6"/>
<line x1="360.40" y1="232.50" x2="360.40" y2="234.50" stroke="#8a7a6a" stroke-width="0.6"/>
<text x="405.60" y="228.20" font-size="5.0" text-anchor="middle" fill="#603030">*</text>
<text x="405.60" y="233.90" font-size="5.0" text-anchor="middle" fill="#603030">*</text>
<text x="445.00" y="169.00" font-size="6.0" text-anchor="start" fill="#1a1a1a" textLength="24.00" lengthAdjust="spacingAndGlyphs">* p &lt; 0.05</text>
<text x="445.00" y="175.50" font-size="6.0" text-anchor="start" fill="#1a1a1a" textLength="26.50" lengthAdjust="spacingAndGlyphs">** p &lt; 0.01</text>
<text x="445.00" y="182.00" font-size="6.0" text-anchor="start" fill="#1a1a1a" textLength="31.00" lengthAdjust="spacingAndGlyphs">*** p &lt; 0.001</text>
<text x="445.00" y="188.50" font-size="6.0" text-anchor="start" fill="#1a1a1a" textLength="36.30" lengthAdjust="spacingAndGlyphs">**** p &lt; 0.0001</text>
<line x1="445.60" y1="216.30" x2="453.40" y2="216.30" stroke="#505868" stroke-width="1.3"/>
<circle cx="449.5" cy="216.3" r="1.4" fill="#505868"/>
<text x="456.00" y="218.40" font-size="6.2" text-anchor="start" fill="#1a1a1a" textLength="40.00" lengthAdjust="spacingAndGlyphs" stroke="#1a1a1a" stroke-width="0.16">KO + vector BM</text>
<line x1="445.60" y1="226.80" x2="453.40" y2="226.80" stroke="#a01c48" stroke-width="1.3"/>
<circle cx="449.5" cy="226.8" r="1.4" fill="#a01c48"/>
<text x="456.00" y="228.90" font-size="6.2" text-anchor="start" fill="#1a1a1a" textLength="49.00" lengthAdjust="spacingAndGlyphs" stroke="#1a1a1a" stroke-width="0.16">KO + <tspan font-style="italic">Pafah1b3</tspan> BM</text>
<line x1="445.60" y1="237.60" x2="453.40" y2="237.60" stroke="#c0c8c8" stroke-width="1.3"/>
<circle cx="449.5" cy="237.6" r="1.4" fill="#c0c8c8"/>
<text x="456.00" y="239.70" font-size="6.2" text-anchor="start" fill="#1a1a1a" textLength="46.70" lengthAdjust="spacingAndGlyphs" stroke="#1a1a1a" stroke-width="0.16">KO + vector spleen</text>
<line x1="445.60" y1="248.10" x2="453.40" y2="248.10" stroke="#5a4020" stroke-width="1.3"/>
<circle cx="449.5" cy="248.1" r="1.4" fill="#5a4020"/>
<text x="456.00" y="250.20" font-size="6.2" text-anchor="start" fill="#1a1a1a" textLength="55.00" lengthAdjust="spacingAndGlyphs" stroke="#1a1a1a" stroke-width="0.16">KO + Pafah1b3 spleen</text>
<text x="33.60" y="310.90" font-size="8.4" text-anchor="start" fill="#1a1a1a" textLength="206.50" lengthAdjust="spacingAndGlyphs">Fold change in cDNA-expressing cells normalized to PB</text>
<text x="70.40" y="321.30" font-size="8.4" text-anchor="start" fill="#1a1a1a" textLength="131.60" lengthAdjust="spacingAndGlyphs">before treatment versus at morbidity</text>
<line x1="47.80" y1="326.30" x2="47.80" y2="447.30" stroke="#111" stroke-width="1.6"/>
<line x1="47.00" y1="446.60" x2="225.80" y2="446.60" stroke="#111" stroke-width="1.6"/>
<line x1="44.80" y1="329.80" x2="47.80" y2="329.80" stroke="#111" stroke-width="1.1"/>
<text x="41.80" y="332.10" font-size="6.6" text-anchor="end" fill="#1a1a1a" textLength="9.20" lengthAdjust="spacingAndGlyphs" stroke="#1a1a1a" stroke-width="0.16">2.0</text>
<line x1="44.80" y1="359.00" x2="47.80" y2="359.00" stroke="#111" stroke-width="1.1"/>
<text x="41.80" y="361.30" font-size="6.6" text-anchor="end" fill="#1a1a1a" textLength="9.20" lengthAdjust="spacingAndGlyphs" stroke="#1a1a1a" stroke-width="0.16">1.5</text>
<line x1="44.80" y1="388.20" x2="47.80" y2="388.20" stroke="#111" stroke-width="1.1"/>
<text x="41.80" y="390.50" font-size="6.6" text-anchor="end" fill="#1a1a1a" textLength="9.20" lengthAdjust="spacingAndGlyphs" stroke="#1a1a1a" stroke-width="0.16">1.0</text>
<line x1="44.80" y1="417.40" x2="47.80" y2="417.40" stroke="#111" stroke-width="1.1"/>
<text x="41.80" y="419.70" font-size="6.6" text-anchor="end" fill="#1a1a1a" textLength="9.20" lengthAdjust="spacingAndGlyphs" stroke="#1a1a1a" stroke-width="0.16">0.5</text>
<line x1="44.80" y1="446.60" x2="47.80" y2="446.60" stroke="#111" stroke-width="1.1"/>
<text x="41.80" y="448.90" font-size="6.6" text-anchor="end" fill="#1a1a1a" textLength="9.20" lengthAdjust="spacingAndGlyphs" stroke="#1a1a1a" stroke-width="0.16">0.0</text>
<g transform="translate(14.90,386.90) rotate(-90)">
<text x="0.00" y="0.00" font-size="8.7" text-anchor="middle" fill="#1a1a1a" textLength="103.00" lengthAdjust="spacingAndGlyphs" stroke="#1a1a1a" stroke-width="0.22">Fold change in %cDNA+ cells in organ</text>
</g>
<g transform="translate(27.30,386.10) rotate(-90)">
<text x="0.00" y="0.00" font-size="8.7" text-anchor="middle" fill="#1a1a1a" textLength="96.40" lengthAdjust="spacingAndGlyphs" stroke="#1a1a1a" stroke-width="0.22">Fold change in %cDNA+ cells in PB</text>
</g>
<line x1="17.90" y1="338.50" x2="17.90" y2="434.80" stroke="#222" stroke-width="0.9"/>
<line x1="90.00" y1="329.50" x2="90.00" y2="446.60" stroke="#606060" stroke-width="1.2" stroke-dasharray="2.1 1.2"/>
<line x1="134.55" y1="329.50" x2="134.55" y2="446.60" stroke="#606060" stroke-width="1.2" stroke-dasharray="2.1 1.2"/>
<line x1="178.95" y1="329.50" x2="178.95" y2="446.60" stroke="#606060" stroke-width="1.2" stroke-dasharray="2.1 1.2"/>
<line x1="51.00" y1="446.60" x2="51.00" y2="449.80" stroke="#111" stroke-width="1.1"/>
<line x1="56.80" y1="446.60" x2="56.80" y2="449.80" stroke="#111" stroke-width="1.1"/>
<line x1="50.30" y1="457.00" x2="51.70" y2="457.00" stroke="#444" stroke-width="0.8"/>
<line x1="55.00" y1="457.00" x2="58.60" y2="457.00" stroke="#1a1a1a" stroke-width="0.8"/>
<line x1="56.80" y1="455.10" x2="56.80" y2="458.90" stroke="#1a1a1a" stroke-width="0.8"/>
<line x1="50.10" y1="461.60" x2="59.20" y2="461.60" stroke="#222" stroke-width="1.4"/>
<text x="54.50" y="470.30" font-size="6.6" text-anchor="middle" fill="#1a1a1a" stroke="#1a1a1a" stroke-width="0.16">PB</text>
<rect x="49.40" y="386.90" width="3.2" height="2.80" rx="1.2" fill="#1e1e26"/>
<line x1="48.30" y1="388.30" x2="53.70" y2="388.30" stroke="#1e1e26" stroke-width="1.1"/>
<rect x="55.20" y="386.90" width="3.2" height="2.80" rx="1.2" fill="#1e1e26"/>
<line x1="54.10" y1="388.30" x2="59.50" y2="388.30" stroke="#1e1e26" stroke-width="1.1"/>
<line x1="65.00" y1="446.60" x2="65.00" y2="449.80" stroke="#111" stroke-width="1.1"/>
<line x1="70.80" y1="446.60" x2="70.80" y2="449.80" stroke="#111" stroke-width="1.1"/>
<line x1="64.30" y1="457.00" x2="65.70" y2="457.00" stroke="#444" stroke-width="0.8"/>
<line x1="69.00" y1="457.00" x2="72.60" y2="457.00" stroke="#1a1a1a" stroke-width="0.8"/>
<line x1="70.80" y1="455.10" x2="70.80" y2="458.90" stroke="#1a1a1a" stroke-width="0.8"/>
<line x1="64.10" y1="461.60" x2="73.20" y2="461.60" stroke="#222" stroke-width="1.4"/>
<text x="68.50" y="470.30" font-size="6.6" text-anchor="middle" fill="#1a1a1a" stroke="#1a1a1a" stroke-width="0.16">BM</text>
<rect x="63.50" y="386.10" width="3.0" height="5.20" rx="1.2" fill="#707070"/>
<line x1="62.50" y1="388.30" x2="67.50" y2="388.30" stroke="#222" stroke-width="1.1"/>
<line x1="70.80" y1="380.80" x2="70.80" y2="395.80" stroke="#808080" stroke-width="0.8"/>
<rect x="69.30" y="387.30" width="3.0" height="2.00" rx="1.2" fill="#808080"/>
<circle cx="70.80" cy="381.20" r="1.35" fill="#808080"/>
<circle cx="70.80" cy="395.40" r="1.35" fill="#808080"/>
<line x1="68.30" y1="388.30" x2="73.30" y2="388.30" stroke="#222" stroke-width="1.1"/>
<line x1="79.00" y1="446.60" x2="79.00" y2="449.80" stroke="#111" stroke-width="1.1"/>
<line x1="84.80" y1="446.60" x2="84.80" y2="449.80" stroke="#111" stroke-width="1.1"/>
<line x1="78.30" y1="457.00" x2="79.70" y2="457.00" stroke="#444" stroke-width="0.8"/>
<line x1="83.00" y1="457.00" x2="86.60" y2="457.00" stroke="#1a1a1a" stroke-width="0.8"/>
<line x1="84.80" y1="455.10" x2="84.80" y2="458.90" stroke="#1a1a1a" stroke-width="0.8"/>
<line x1="78.10" y1="461.60" x2="87.20" y2="461.60" stroke="#222" stroke-width="1.4"/>
<text x="82.50" y="470.30" font-size="6.6" text-anchor="middle" fill="#1a1a1a" stroke="#1a1a1a" stroke-width="0.16">SPL</text>
<rect x="77.50" y="387.30" width="3.0" height="2.00" rx="1.2" fill="#a8a8a8"/>
<line x1="76.50" y1="388.30" x2="81.50" y2="388.30" stroke="#333" stroke-width="1.1"/>
<rect x="83.30" y="385.70" width="3.0" height="5.30" rx="1.2" fill="#a8a8a8"/>
<line x1="82.30" y1="388.30" x2="87.30" y2="388.30" stroke="#333" stroke-width="1.1"/>
<path d="M46.60 472.3 V474.0 H89.60 V472.3" fill="none" stroke="#333" stroke-width="1.2"/>
<text x="69.10" y="483.00" font-size="6.6" text-anchor="middle" fill="#1a1a1a" stroke="#1a1a1a" stroke-width="0.16">WT + vector</text>
<line x1="95.30" y1="446.60" x2="95.30" y2="449.80" stroke="#111" stroke-width="1.1"/>
<line x1="101.10" y1="446.60" x2="101.10" y2="449.80" stroke="#111" stroke-width="1.1"/>
<line x1="94.60" y1="457.00" x2="96.00" y2="457.00" stroke="#444" stroke-width="0.8"/>
<line x1="99.30" y1="457.00" x2="102.90" y2="457.00" stroke="#1a1a1a" stroke-width="0.8"/>
<line x1="101.10" y1="455.10" x2="101.10" y2="458.90" stroke="#1a1a1a" stroke-width="0.8"/>
<line x1="94.40" y1="461.60" x2="103.50" y2="461.60" stroke="#222" stroke-width="1.4"/>
<text x="98.80" y="470.30" font-size="6.6" text-anchor="middle" fill="#1a1a1a" stroke="#1a1a1a" stroke-width="0.16">PB</text>
<rect x="93.70" y="386.90" width="3.2" height="2.80" rx="1.2" fill="#1e1e26"/>
<line x1="92.60" y1="388.30" x2="98.00" y2="388.30" stroke="#1e1e26" stroke-width="1.1"/>
<rect x="99.50" y="386.90" width="3.2" height="2.80" rx="1.2" fill="#1e1e26"/>
<line x1="98.40" y1="388.30" x2="103.80" y2="388.30" stroke="#1e1e26" stroke-width="1.1"/>
<line x1="109.30" y1="446.60" x2="109.30" y2="449.80" stroke="#111" stroke-width="1.1"/>
<line x1="115.10" y1="446.60" x2="115.10" y2="449.80" stroke="#111" stroke-width="1.1"/>
<line x1="108.60" y1="457.00" x2="110.00" y2="457.00" stroke="#444" stroke-width="0.8"/>
<line x1="113.30" y1="457.00" x2="116.90" y2="457.00" stroke="#1a1a1a" stroke-width="0.8"/>
<line x1="115.10" y1="455.10" x2="115.10" y2="458.90" stroke="#1a1a1a" stroke-width="0.8"/>
<line x1="108.40" y1="461.60" x2="117.50" y2="461.60" stroke="#222" stroke-width="1.4"/>
<text x="112.80" y="470.30" font-size="6.6" text-anchor="middle" fill="#1a1a1a" stroke="#1a1a1a" stroke-width="0.16">BM</text>
<rect x="107.80" y="384.10" width="3.0" height="6.90" rx="1.2" fill="#6aa0d0"/>
<line x1="106.80" y1="387.70" x2="111.80" y2="387.70" stroke="#2a5a8a" stroke-width="1.1"/>
<line x1="115.10" y1="381.30" x2="115.10" y2="390.50" stroke="#6a98c8" stroke-width="0.8"/>
<rect x="113.60" y="383.50" width="3.0" height="7.00" rx="1.2" fill="#6a98c8"/>
<circle cx="115.10" cy="381.80" r="1.35" fill="#6a98c8"/>
<line x1="112.60" y1="386.50" x2="117.60" y2="386.50" stroke="#223a6a" stroke-width="1.1"/>
<line x1="123.30" y1="446.60" x2="123.30" y2="449.80" stroke="#111" stroke-width="1.1"/>
<line x1="129.10" y1="446.60" x2="129.10" y2="449.80" stroke="#111" stroke-width="1.1"/>
<line x1="122.60" y1="457.00" x2="124.00" y2="457.00" stroke="#444" stroke-width="0.8"/>
<line x1="127.30" y1="457.00" x2="130.90" y2="457.00" stroke="#1a1a1a" stroke-width="0.8"/>
<line x1="129.10" y1="455.10" x2="129.10" y2="458.90" stroke="#1a1a1a" stroke-width="0.8"/>
<line x1="122.40" y1="461.60" x2="131.50" y2="461.60" stroke="#222" stroke-width="1.4"/>
<text x="126.80" y="470.30" font-size="6.6" text-anchor="middle" fill="#1a1a1a" stroke="#1a1a1a" stroke-width="0.16">SPL</text>
<rect x="121.80" y="385.30" width="3.0" height="4.40" rx="1.2" fill="#2a5a3a"/>
<line x1="120.80" y1="388.00" x2="125.80" y2="388.00" stroke="#1a3a2a" stroke-width="1.1"/>
<line x1="129.10" y1="382.50" x2="129.10" y2="389.30" stroke="#2a5a3a" stroke-width="0.8"/>
<rect x="127.60" y="384.50" width="3.0" height="4.80" rx="1.2" fill="#2a5a3a"/>
<circle cx="129.10" cy="383.00" r="1.35" fill="#2a5a3a"/>
<line x1="126.60" y1="386.50" x2="131.60" y2="386.50" stroke="#1a3a2a" stroke-width="1.1"/>
<path d="M91.60 472.3 V474.0 H134.00 V472.3" fill="none" stroke="#333" stroke-width="1.2"/>
<text x="112.00" y="483.00" font-size="6.6" text-anchor="middle" fill="#1a1a1a" stroke="#1a1a1a" stroke-width="0.16">WT + <tspan font-style="italic">Pafah1b3</tspan></text>
<line x1="139.30" y1="446.60" x2="139.30" y2="449.80" stroke="#111" stroke-width="1.1"/>
<line x1="145.10" y1="446.60" x2="145.10" y2="449.80" stroke="#111" stroke-width="1.1"/>
<line x1="138.60" y1="457.00" x2="140.00" y2="457.00" stroke="#444" stroke-width="0.8"/>
<line x1="143.30" y1="457.00" x2="146.90" y2="457.00" stroke="#1a1a1a" stroke-width="0.8"/>
<line x1="145.10" y1="455.10" x2="145.10" y2="458.90" stroke="#1a1a1a" stroke-width="0.8"/>
<line x1="138.40" y1="461.60" x2="147.50" y2="461.60" stroke="#222" stroke-width="1.4"/>
<text x="142.80" y="470.30" font-size="6.6" text-anchor="middle" fill="#1a1a1a" stroke="#1a1a1a" stroke-width="0.16">PB</text>
<rect x="137.70" y="386.90" width="3.2" height="2.80" rx="1.2" fill="#303038"/>
<line x1="136.60" y1="388.30" x2="142.00" y2="388.30" stroke="#303038" stroke-width="1.1"/>
<rect x="143.50" y="386.90" width="3.2" height="2.80" rx="1.2" fill="#303038"/>
<line x1="142.40" y1="388.30" x2="147.80" y2="388.30" stroke="#303038" stroke-width="1.1"/>
<line x1="153.30" y1="446.60" x2="153.30" y2="449.80" stroke="#111" stroke-width="1.1"/>
<line x1="159.10" y1="446.60" x2="159.10" y2="449.80" stroke="#111" stroke-width="1.1"/>
<line x1="152.60" y1="457.00" x2="154.00" y2="457.00" stroke="#444" stroke-width="0.8"/>
<line x1="157.30" y1="457.00" x2="160.90" y2="457.00" stroke="#1a1a1a" stroke-width="0.8"/>
<line x1="159.10" y1="455.10" x2="159.10" y2="458.90" stroke="#1a1a1a" stroke-width="0.8"/>
<line x1="152.40" y1="461.60" x2="161.50" y2="461.60" stroke="#222" stroke-width="1.4"/>
<text x="156.80" y="470.30" font-size="6.6" text-anchor="middle" fill="#1a1a1a" stroke="#1a1a1a" stroke-width="0.16">BM</text>
<rect x="151.80" y="384.90" width="3.0" height="7.30" rx="1.2" fill="#707078"/>
<line x1="150.80" y1="388.30" x2="155.80" y2="388.30" stroke="#333" stroke-width="1.1"/>
<rect x="157.60" y="384.50" width="3.0" height="7.30" rx="1.2" fill="#707078"/>
<line x1="156.60" y1="388.30" x2="161.60" y2="388.30" stroke="#333" stroke-width="1.1"/>
<line x1="167.30" y1="446.60" x2="167.30" y2="449.80" stroke="#111" stroke-width="1.1"/>
<line x1="173.10" y1="446.60" x2="173.10" y2="449.80" stroke="#111" stroke-width="1.1"/>
<line x1="166.60" y1="457.00" x2="168.00" y2="457.00" stroke="#444" stroke-width="0.8"/>
<line x1="171.30" y1="457.00" x2="174.90" y2="457.00" stroke="#1a1a1a" stroke-width="0.8"/>
<line x1="173.10" y1="455.10" x2="173.10" y2="458.90" stroke="#1a1a1a" stroke-width="0.8"/>
<line x1="166.40" y1="461.60" x2="175.50" y2="461.60" stroke="#222" stroke-width="1.4"/>
<text x="170.80" y="470.30" font-size="6.6" text-anchor="middle" fill="#1a1a1a" stroke="#1a1a1a" stroke-width="0.16">SPL</text>
<rect x="165.80" y="385.30" width="3.0" height="5.20" rx="1.2" fill="#a8a8b0"/>
<line x1="164.80" y1="388.30" x2="169.80" y2="388.30" stroke="#555" stroke-width="1.1"/>
<line x1="173.10" y1="381.70" x2="173.10" y2="392.60" stroke="#a8a8b0" stroke-width="0.8"/>
<rect x="171.60" y="385.00" width="3.0" height="7.60" rx="1.2" fill="#a8a8b0"/>
<circle cx="173.10" cy="382.00" r="1.35" fill="#a8a8b0"/>
<line x1="170.60" y1="388.30" x2="175.60" y2="388.30" stroke="#555" stroke-width="1.1"/>
<path d="M135.80 472.3 V474.0 H178.20 V472.3" fill="none" stroke="#333" stroke-width="1.2"/>
<text x="158.20" y="483.00" font-size="6.6" text-anchor="middle" fill="#1a1a1a" stroke="#1a1a1a" stroke-width="0.16">KO + vector</text>
<line x1="184.10" y1="446.60" x2="184.10" y2="449.80" stroke="#111" stroke-width="1.1"/>
<line x1="189.90" y1="446.60" x2="189.90" y2="449.80" stroke="#111" stroke-width="1.1"/>
<line x1="183.40" y1="457.00" x2="184.80" y2="457.00" stroke="#444" stroke-width="0.8"/>
<line x1="188.10" y1="457.00" x2="191.70" y2="457.00" stroke="#1a1a1a" stroke-width="0.8"/>
<line x1="189.90" y1="455.10" x2="189.90" y2="458.90" stroke="#1a1a1a" stroke-width="0.8"/>
<line x1="183.20" y1="461.60" x2="192.30" y2="461.60" stroke="#222" stroke-width="1.4"/>
<text x="187.60" y="470.30" font-size="6.6" text-anchor="middle" fill="#1a1a1a" stroke="#1a1a1a" stroke-width="0.16">PB</text>
<rect x="182.50" y="386.90" width="3.2" height="2.80" rx="1.2" fill="#302030"/>
<line x1="181.40" y1="388.30" x2="186.80" y2="388.30" stroke="#302030" stroke-width="1.1"/>
<rect x="188.30" y="386.90" width="3.2" height="2.80" rx="1.2" fill="#302030"/>
<line x1="187.20" y1="388.30" x2="192.60" y2="388.30" stroke="#302030" stroke-width="1.1"/>
<line x1="198.10" y1="446.60" x2="198.10" y2="449.80" stroke="#111" stroke-width="1.1"/>
<line x1="203.90" y1="446.60" x2="203.90" y2="449.80" stroke="#111" stroke-width="1.1"/>
<line x1="197.40" y1="457.00" x2="198.80" y2="457.00" stroke="#444" stroke-width="0.8"/>
<line x1="202.10" y1="457.00" x2="205.70" y2="457.00" stroke="#1a1a1a" stroke-width="0.8"/>
<line x1="203.90" y1="455.10" x2="203.90" y2="458.90" stroke="#1a1a1a" stroke-width="0.8"/>
<line x1="197.20" y1="461.60" x2="206.30" y2="461.60" stroke="#222" stroke-width="1.4"/>
<text x="201.60" y="470.30" font-size="6.6" text-anchor="middle" fill="#1a1a1a" stroke="#1a1a1a" stroke-width="0.16">BM</text>
<rect x="196.60" y="386.10" width="3.0" height="6.90" rx="1.2" fill="#a01040"/>
<line x1="195.60" y1="388.90" x2="200.60" y2="388.90" stroke="#601030" stroke-width="1.1"/>
<line x1="203.90" y1="366.70" x2="203.90" y2="387.00" stroke="#a01040" stroke-width="0.8"/>
<rect x="202.40" y="377.90" width="3.0" height="9.10" rx="1.2" fill="#a01040"/>
<circle cx="203.90" cy="366.90" r="1.35" fill="#a01040"/>
<line x1="201.40" y1="379.20" x2="206.40" y2="379.20" stroke="#601030" stroke-width="1.1"/>
<line x1="212.10" y1="446.60" x2="212.10" y2="449.80" stroke="#111" stroke-width="1.1"/>
<line x1="217.90" y1="446.60" x2="217.90" y2="449.80" stroke="#111" stroke-width="1.1"/>
<line x1="211.40" y1="457.00" x2="212.80" y2="457.00" stroke="#444" stroke-width="0.8"/>
<line x1="216.10" y1="457.00" x2="219.70" y2="457.00" stroke="#1a1a1a" stroke-width="0.8"/>
<line x1="217.90" y1="455.10" x2="217.90" y2="458.90" stroke="#1a1a1a" stroke-width="0.8"/>
<line x1="211.20" y1="461.60" x2="220.30" y2="461.60" stroke="#222" stroke-width="1.4"/>
<text x="215.60" y="470.30" font-size="6.6" text-anchor="middle" fill="#1a1a1a" stroke="#1a1a1a" stroke-width="0.16">SPL</text>
<rect x="210.60" y="386.60" width="3.0" height="5.00" rx="1.2" fill="#5a3a1a"/>
<line x1="209.60" y1="388.80" x2="214.60" y2="388.80" stroke="#5a3a1a" stroke-width="1.1"/>
<rect x="216.40" y="385.20" width="3.0" height="4.60" rx="1.2" fill="#5a3a1a"/>
<line x1="215.40" y1="387.50" x2="220.40" y2="387.50" stroke="#5a3a1a" stroke-width="1.1"/>
<path d="M180.20 472.3 V474.0 H222.40 V472.3" fill="none" stroke="#333" stroke-width="1.2"/>
<text x="202.90" y="483.00" font-size="6.6" text-anchor="middle" fill="#1a1a1a" stroke="#1a1a1a" stroke-width="0.16">KO + <tspan font-style="italic">Pafah1b3</tspan></text>
<text x="227.70" y="459.60" font-size="6.2" text-anchor="start" fill="#1a1a1a" stroke="#1a1a1a" stroke-width="0.16">- before tx</text>
<text x="227.70" y="467.00" font-size="6.2" text-anchor="start" fill="#1a1a1a" stroke="#1a1a1a" stroke-width="0.16">+ after tx</text>
<path d="M198.10 382.40 V360.00 H203.80 V361.90" fill="none" stroke="#111" stroke-width="1.1"/>
<text x="201.00" y="360.60" font-size="6.5" text-anchor="middle" fill="#111" stroke="#111" stroke-width="0.2">*</text>
<text x="231.00" y="348.20" font-size="5.8" text-anchor="start" fill="#1a1a1a" textLength="24.30" lengthAdjust="spacingAndGlyphs">* p &lt; 0.05</text>
<text x="232.00" y="363.00" font-size="5.8" text-anchor="start" fill="#1a1a1a" textLength="23.20" lengthAdjust="spacingAndGlyphs">N.S. if not</text>
<text x="232.00" y="369.60" font-size="5.8" text-anchor="start" fill="#1a1a1a" textLength="22.60" lengthAdjust="spacingAndGlyphs">otherwise</text>
<text x="232.00" y="376.10" font-size="5.8" text-anchor="start" fill="#1a1a1a" textLength="13.80" lengthAdjust="spacingAndGlyphs">noted</text>
<text x="291.20" y="310.90" font-size="8.4" text-anchor="start" fill="#1a1a1a" textLength="206.50" lengthAdjust="spacingAndGlyphs">Fold change in cDNA-expressing cells normalized to PB</text>
<text x="308.50" y="321.30" font-size="8.4" text-anchor="start" fill="#1a1a1a" textLength="171.10" lengthAdjust="spacingAndGlyphs">before treatment versus 5 days post-treatment</text>
<line x1="305.40" y1="326.30" x2="305.40" y2="447.30" stroke="#111" stroke-width="1.6"/>
<line x1="304.60" y1="446.60" x2="483.20" y2="446.60" stroke="#111" stroke-width="1.6"/>
<line x1="302.40" y1="329.80" x2="305.40" y2="329.80" stroke="#111" stroke-width="1.1"/>
<text x="299.40" y="332.10" font-size="6.6" text-anchor="end" fill="#1a1a1a" textLength="9.20" lengthAdjust="spacingAndGlyphs" stroke="#1a1a1a" stroke-width="0.16">2.0</text>
<line x1="302.40" y1="359.00" x2="305.40" y2="359.00" stroke="#111" stroke-width="1.1"/>
<text x="299.40" y="361.30" font-size="6.6" text-anchor="end" fill="#1a1a1a" textLength="9.20" lengthAdjust="spacingAndGlyphs" stroke="#1a1a1a" stroke-width="0.16">1.5</text>
<line x1="302.40" y1="388.20" x2="305.40" y2="388.20" stroke="#111" stroke-width="1.1"/>
<text x="299.40" y="390.50" font-size="6.6" text-anchor="end" fill="#1a1a1a" textLength="9.20" lengthAdjust="spacingAndGlyphs" stroke="#1a1a1a" stroke-width="0.16">1.0</text>
<line x1="302.40" y1="417.40" x2="305.40" y2="417.40" stroke="#111" stroke-width="1.1"/>
<text x="299.40" y="419.70" font-size="6.6" text-anchor="end" fill="#1a1a1a" textLength="9.20" lengthAdjust="spacingAndGlyphs" stroke="#1a1a1a" stroke-width="0.16">0.5</text>
<line x1="302.40" y1="446.60" x2="305.40" y2="446.60" stroke="#111" stroke-width="1.1"/>
<text x="299.40" y="448.90" font-size="6.6" text-anchor="end" fill="#1a1a1a" textLength="9.20" lengthAdjust="spacingAndGlyphs" stroke="#1a1a1a" stroke-width="0.16">0.0</text>
<g transform="translate(272.50,386.90) rotate(-90)">
<text x="0.00" y="0.00" font-size="8.7" text-anchor="middle" fill="#1a1a1a" textLength="103.00" lengthAdjust="spacingAndGlyphs" stroke="#1a1a1a" stroke-width="0.22">Fold change in %cDNA+ cells in organ</text>
</g>
<g transform="translate(284.90,386.10) rotate(-90)">
<text x="0.00" y="0.00" font-size="8.7" text-anchor="middle" fill="#1a1a1a" textLength="96.40" lengthAdjust="spacingAndGlyphs" stroke="#1a1a1a" stroke-width="0.22">Fold change in %cDNA+ cells in PB</text>
</g>
<line x1="275.50" y1="338.50" x2="275.50" y2="434.80" stroke="#222" stroke-width="0.9"/>
<line x1="347.60" y1="329.50" x2="347.60" y2="446.60" stroke="#606060" stroke-width="1.2" stroke-dasharray="2.1 1.2"/>
<line x1="392.15" y1="329.50" x2="392.15" y2="446.60" stroke="#606060" stroke-width="1.2" stroke-dasharray="2.1 1.2"/>
<line x1="436.55" y1="329.50" x2="436.55" y2="446.60" stroke="#606060" stroke-width="1.2" stroke-dasharray="2.1 1.2"/>
<line x1="308.60" y1="446.60" x2="308.60" y2="449.80" stroke="#111" stroke-width="1.1"/>
<line x1="314.40" y1="446.60" x2="314.40" y2="449.80" stroke="#111" stroke-width="1.1"/>
<line x1="307.90" y1="457.00" x2="309.30" y2="457.00" stroke="#444" stroke-width="0.8"/>
<line x1="312.60" y1="457.00" x2="316.20" y2="457.00" stroke="#1a1a1a" stroke-width="0.8"/>
<line x1="314.40" y1="455.10" x2="314.40" y2="458.90" stroke="#1a1a1a" stroke-width="0.8"/>
<line x1="307.70" y1="461.60" x2="316.80" y2="461.60" stroke="#222" stroke-width="1.4"/>
<text x="312.10" y="470.30" font-size="6.6" text-anchor="middle" fill="#1a1a1a" stroke="#1a1a1a" stroke-width="0.16">PB</text>
<rect x="307.00" y="386.90" width="3.2" height="2.80" rx="1.2" fill="#1e1e26"/>
<line x1="305.90" y1="388.30" x2="311.30" y2="388.30" stroke="#1e1e26" stroke-width="1.1"/>
<rect x="312.80" y="386.90" width="3.2" height="2.80" rx="1.2" fill="#1e1e26"/>
<line x1="311.70" y1="388.30" x2="317.10" y2="388.30" stroke="#1e1e26" stroke-width="1.1"/>
<line x1="322.60" y1="446.60" x2="322.60" y2="449.80" stroke="#111" stroke-width="1.1"/>
<line x1="328.40" y1="446.60" x2="328.40" y2="449.80" stroke="#111" stroke-width="1.1"/>
<line x1="321.90" y1="457.00" x2="323.30" y2="457.00" stroke="#444" stroke-width="0.8"/>
<line x1="326.60" y1="457.00" x2="330.20" y2="457.00" stroke="#1a1a1a" stroke-width="0.8"/>
<line x1="328.40" y1="455.10" x2="328.40" y2="458.90" stroke="#1a1a1a" stroke-width="0.8"/>
<line x1="321.70" y1="461.60" x2="330.80" y2="461.60" stroke="#222" stroke-width="1.4"/>
<text x="326.10" y="470.30" font-size="6.6" text-anchor="middle" fill="#1a1a1a" stroke="#1a1a1a" stroke-width="0.16">BM</text>
<rect x="321.10" y="385.50" width="3.0" height="5.50" rx="1.2" fill="#707070"/>
<line x1="320.10" y1="388.30" x2="325.10" y2="388.30" stroke="#222" stroke-width="1.1"/>
<rect x="326.90" y="384.60" width="3.0" height="6.90" rx="1.2" fill="#808080"/>
<line x1="325.90" y1="388.00" x2="330.90" y2="388.00" stroke="#222" stroke-width="1.1"/>
<line x1="336.60" y1="446.60" x2="336.60" y2="449.80" stroke="#111" stroke-width="1.1"/>
<line x1="342.40" y1="446.60" x2="342.40" y2="449.80" stroke="#111" stroke-width="1.1"/>
<line x1="335.90" y1="457.00" x2="337.30" y2="457.00" stroke="#444" stroke-width="0.8"/>
<line x1="340.60" y1="457.00" x2="344.20" y2="457.00" stroke="#1a1a1a" stroke-width="0.8"/>
<line x1="342.40" y1="455.10" x2="342.40" y2="458.90" stroke="#1a1a1a" stroke-width="0.8"/>
<line x1="335.70" y1="461.60" x2="344.80" y2="461.60" stroke="#222" stroke-width="1.4"/>
<text x="340.10" y="470.30" font-size="6.6" text-anchor="middle" fill="#1a1a1a" stroke="#1a1a1a" stroke-width="0.16">SPL</text>
<rect x="335.10" y="387.30" width="3.0" height="2.00" rx="1.2" fill="#a8a8a8"/>
<line x1="334.10" y1="388.30" x2="339.10" y2="388.30" stroke="#333" stroke-width="1.1"/>
<rect x="340.90" y="384.00" width="3.0" height="8.30" rx="1.2" fill="#a8a8a8"/>
<line x1="339.90" y1="388.00" x2="344.90" y2="388.00" stroke="#333" stroke-width="1.1"/>
<path d="M304.20 472.3 V474.0 H347.20 V472.3" fill="none" stroke="#333" stroke-width="1.2"/>
<text x="326.70" y="483.00" font-size="6.6" text-anchor="middle" fill="#1a1a1a" stroke="#1a1a1a" stroke-width="0.16">WT + vector</text>
<line x1="352.90" y1="446.60" x2="352.90" y2="449.80" stroke="#111" stroke-width="1.1"/>
<line x1="358.70" y1="446.60" x2="358.70" y2="449.80" stroke="#111" stroke-width="1.1"/>
<line x1="352.20" y1="457.00" x2="353.60" y2="457.00" stroke="#444" stroke-width="0.8"/>
<line x1="356.90" y1="457.00" x2="360.50" y2="457.00" stroke="#1a1a1a" stroke-width="0.8"/>
<line x1="358.70" y1="455.10" x2="358.70" y2="458.90" stroke="#1a1a1a" stroke-width="0.8"/>
<line x1="352.00" y1="461.60" x2="361.10" y2="461.60" stroke="#222" stroke-width="1.4"/>
<text x="356.40" y="470.30" font-size="6.6" text-anchor="middle" fill="#1a1a1a" stroke="#1a1a1a" stroke-width="0.16">PB</text>
<rect x="351.30" y="386.90" width="3.2" height="2.80" rx="1.2" fill="#1e1e26"/>
<line x1="350.20" y1="388.30" x2="355.60" y2="388.30" stroke="#1e1e26" stroke-width="1.1"/>
<rect x="357.10" y="386.90" width="3.2" height="2.80" rx="1.2" fill="#1e1e26"/>
<line x1="356.00" y1="388.30" x2="361.40" y2="388.30" stroke="#1e1e26" stroke-width="1.1"/>
<line x1="366.90" y1="446.60" x2="366.90" y2="449.80" stroke="#111" stroke-width="1.1"/>
<line x1="372.70" y1="446.60" x2="372.70" y2="449.80" stroke="#111" stroke-width="1.1"/>
<line x1="366.20" y1="457.00" x2="367.60" y2="457.00" stroke="#444" stroke-width="0.8"/>
<line x1="370.90" y1="457.00" x2="374.50" y2="457.00" stroke="#1a1a1a" stroke-width="0.8"/>
<line x1="372.70" y1="455.10" x2="372.70" y2="458.90" stroke="#1a1a1a" stroke-width="0.8"/>
<line x1="366.00" y1="461.60" x2="375.10" y2="461.60" stroke="#222" stroke-width="1.4"/>
<text x="370.40" y="470.30" font-size="6.6" text-anchor="middle" fill="#1a1a1a" stroke="#1a1a1a" stroke-width="0.16">BM</text>
<rect x="365.40" y="384.00" width="3.0" height="8.00" rx="1.2" fill="#4a80c0"/>
<line x1="364.40" y1="388.00" x2="369.40" y2="388.00" stroke="#2a4a80" stroke-width="1.1"/>
<rect x="371.20" y="368.60" width="3.0" height="2.40" rx="1.2" fill="#4a80c0"/>
<line x1="370.20" y1="369.80" x2="375.20" y2="369.80" stroke="#2a4a80" stroke-width="1.1"/>
<line x1="380.90" y1="446.60" x2="380.90" y2="449.80" stroke="#111" stroke-width="1.1"/>
<line x1="386.70" y1="446.60" x2="386.70" y2="449.80" stroke="#111" stroke-width="1.1"/>
<line x1="380.20" y1="457.00" x2="381.60" y2="457.00" stroke="#444" stroke-width="0.8"/>
<line x1="384.90" y1="457.00" x2="388.50" y2="457.00" stroke="#1a1a1a" stroke-width="0.8"/>
<line x1="386.70" y1="455.10" x2="386.70" y2="458.90" stroke="#1a1a1a" stroke-width="0.8"/>
<line x1="380.00" y1="461.60" x2="389.10" y2="461.60" stroke="#222" stroke-width="1.4"/>
<text x="384.40" y="470.30" font-size="6.6" text-anchor="middle" fill="#1a1a1a" stroke="#1a1a1a" stroke-width="0.16">SPL</text>
<rect x="379.40" y="386.50" width="3.0" height="3.50" rx="1.2" fill="#2a4a2a"/>
<line x1="378.40" y1="388.20" x2="383.40" y2="388.20" stroke="#1a2a1a" stroke-width="1.1"/>
<line x1="386.70" y1="379.40" x2="386.70" y2="387.00" stroke="#2a4a2a" stroke-width="0.8"/>
<rect x="385.20" y="382.00" width="3.0" height="5.00" rx="1.2" fill="#2a4a2a"/>
<circle cx="386.70" cy="379.80" r="1.35" fill="#2a4a2a"/>
<line x1="384.20" y1="383.50" x2="389.20" y2="383.50" stroke="#1a2a1a" stroke-width="1.1"/>
<path d="M349.20 472.3 V474.0 H391.60 V472.3" fill="none" stroke="#333" stroke-width="1.2"/>
<text x="369.60" y="483.00" font-size="6.6" text-anchor="middle" fill="#1a1a1a" stroke="#1a1a1a" stroke-width="0.16">WT + <tspan font-style="italic">Pafah1b3</tspan></text>
<line x1="396.90" y1="446.60" x2="396.90" y2="449.80" stroke="#111" stroke-width="1.1"/>
<line x1="402.70" y1="446.60" x2="402.70" y2="449.80" stroke="#111" stroke-width="1.1"/>
<line x1="396.20" y1="457.00" x2="397.60" y2="457.00" stroke="#444" stroke-width="0.8"/>
<line x1="400.90" y1="457.00" x2="404.50" y2="457.00" stroke="#1a1a1a" stroke-width="0.8"/>
<line x1="402.70" y1="455.10" x2="402.70" y2="458.90" stroke="#1a1a1a" stroke-width="0.8"/>
<line x1="396.00" y1="461.60" x2="405.10" y2="461.60" stroke="#222" stroke-width="1.4"/>
<text x="400.40" y="470.30" font-size="6.6" text-anchor="middle" fill="#1a1a1a" stroke="#1a1a1a" stroke-width="0.16">PB</text>
<rect x="395.30" y="386.90" width="3.2" height="2.80" rx="1.2" fill="#303040"/>
<line x1="394.20" y1="388.30" x2="399.60" y2="388.30" stroke="#303040" stroke-width="1.1"/>
<rect x="401.10" y="386.90" width="3.2" height="2.80" rx="1.2" fill="#303040"/>
<line x1="400.00" y1="388.30" x2="405.40" y2="388.30" stroke="#303040" stroke-width="1.1"/>
<line x1="410.90" y1="446.60" x2="410.90" y2="449.80" stroke="#111" stroke-width="1.1"/>
<line x1="416.70" y1="446.60" x2="416.70" y2="449.80" stroke="#111" stroke-width="1.1"/>
<line x1="410.20" y1="457.00" x2="411.60" y2="457.00" stroke="#444" stroke-width="0.8"/>
<line x1="414.90" y1="457.00" x2="418.50" y2="457.00" stroke="#1a1a1a" stroke-width="0.8"/>
<line x1="416.70" y1="455.10" x2="416.70" y2="458.90" stroke="#1a1a1a" stroke-width="0.8"/>
<line x1="410.00" y1="461.60" x2="419.10" y2="461.60" stroke="#222" stroke-width="1.4"/>
<text x="414.40" y="470.30" font-size="6.6" text-anchor="middle" fill="#1a1a1a" stroke="#1a1a1a" stroke-width="0.16">BM</text>
<rect x="409.40" y="385.00" width="3.0" height="6.00" rx="1.2" fill="#707080"/>
<line x1="408.40" y1="388.00" x2="413.40" y2="388.00" stroke="#333" stroke-width="1.1"/>
<rect x="415.20" y="382.00" width="3.0" height="10.00" rx="1.2" fill="#707080"/>
<line x1="414.20" y1="388.00" x2="419.20" y2="388.00" stroke="#333" stroke-width="1.1"/>
<line x1="424.90" y1="446.60" x2="424.90" y2="449.80" stroke="#111" stroke-width="1.1"/>
<line x1="430.70" y1="446.60" x2="430.70" y2="449.80" stroke="#111" stroke-width="1.1"/>
<line x1="424.20" y1="457.00" x2="425.60" y2="457.00" stroke="#444" stroke-width="0.8"/>
<line x1="428.90" y1="457.00" x2="432.50" y2="457.00" stroke="#1a1a1a" stroke-width="0.8"/>
<line x1="430.70" y1="455.10" x2="430.70" y2="458.90" stroke="#1a1a1a" stroke-width="0.8"/>
<line x1="424.00" y1="461.60" x2="433.10" y2="461.60" stroke="#222" stroke-width="1.4"/>
<text x="428.40" y="470.30" font-size="6.6" text-anchor="middle" fill="#1a1a1a" stroke="#1a1a1a" stroke-width="0.16">SPL</text>
<rect x="423.40" y="386.50" width="3.0" height="3.50" rx="1.2" fill="#a8a8b4"/>
<line x1="422.40" y1="388.20" x2="427.40" y2="388.20" stroke="#555" stroke-width="1.1"/>
<rect x="429.20" y="385.50" width="3.0" height="5.50" rx="1.2" fill="#a8a8b4"/>
<line x1="428.20" y1="388.20" x2="433.20" y2="388.20" stroke="#555" stroke-width="1.1"/>
<path d="M393.40 472.3 V474.0 H435.80 V472.3" fill="none" stroke="#333" stroke-width="1.2"/>
<text x="415.80" y="483.00" font-size="6.6" text-anchor="middle" fill="#1a1a1a" stroke="#1a1a1a" stroke-width="0.16">KO + vector</text>
<line x1="441.70" y1="446.60" x2="441.70" y2="449.80" stroke="#111" stroke-width="1.1"/>
<line x1="447.50" y1="446.60" x2="447.50" y2="449.80" stroke="#111" stroke-width="1.1"/>
<line x1="441.00" y1="457.00" x2="442.40" y2="457.00" stroke="#444" stroke-width="0.8"/>
<line x1="445.70" y1="457.00" x2="449.30" y2="457.00" stroke="#1a1a1a" stroke-width="0.8"/>
<line x1="447.50" y1="455.10" x2="447.50" y2="458.90" stroke="#1a1a1a" stroke-width="0.8"/>
<line x1="440.80" y1="461.60" x2="449.90" y2="461.60" stroke="#222" stroke-width="1.4"/>
<text x="445.20" y="470.30" font-size="6.6" text-anchor="middle" fill="#1a1a1a" stroke="#1a1a1a" stroke-width="0.16">PB</text>
<rect x="440.10" y="386.90" width="3.2" height="2.80" rx="1.2" fill="#302030"/>
<line x1="439.00" y1="388.30" x2="444.40" y2="388.30" stroke="#302030" stroke-width="1.1"/>
<rect x="445.90" y="386.90" width="3.2" height="2.80" rx="1.2" fill="#302030"/>
<line x1="444.80" y1="388.30" x2="450.20" y2="388.30" stroke="#302030" stroke-width="1.1"/>
<line x1="455.70" y1="446.60" x2="455.70" y2="449.80" stroke="#111" stroke-width="1.1"/>
<line x1="461.50" y1="446.60" x2="461.50" y2="449.80" stroke="#111" stroke-width="1.1"/>
<line x1="455.00" y1="457.00" x2="456.40" y2="457.00" stroke="#444" stroke-width="0.8"/>
<line x1="459.70" y1="457.00" x2="463.30" y2="457.00" stroke="#1a1a1a" stroke-width="0.8"/>
<line x1="461.50" y1="455.10" x2="461.50" y2="458.90" stroke="#1a1a1a" stroke-width="0.8"/>
<line x1="454.80" y1="461.60" x2="463.90" y2="461.60" stroke="#222" stroke-width="1.4"/>
<text x="459.20" y="470.30" font-size="6.6" text-anchor="middle" fill="#1a1a1a" stroke="#1a1a1a" stroke-width="0.16">BM</text>
<rect x="454.20" y="385.50" width="3.0" height="7.50" rx="1.2" fill="#a01040"/>
<line x1="453.20" y1="389.40" x2="458.20" y2="389.40" stroke="#601030" stroke-width="1.1"/>
<line x1="461.50" y1="356.60" x2="461.50" y2="378.00" stroke="#a01040" stroke-width="0.8"/>
<rect x="460.00" y="368.10" width="3.0" height="9.90" rx="1.2" fill="#a01040"/>
<circle cx="461.50" cy="356.80" r="1.35" fill="#a01040"/>
<line x1="459.00" y1="369.30" x2="464.00" y2="369.30" stroke="#601030" stroke-width="1.1"/>
<line x1="469.70" y1="446.60" x2="469.70" y2="449.80" stroke="#111" stroke-width="1.1"/>
<line x1="475.50" y1="446.60" x2="475.50" y2="449.80" stroke="#111" stroke-width="1.1"/>
<line x1="469.00" y1="457.00" x2="470.40" y2="457.00" stroke="#444" stroke-width="0.8"/>
<line x1="473.70" y1="457.00" x2="477.30" y2="457.00" stroke="#1a1a1a" stroke-width="0.8"/>
<line x1="475.50" y1="455.10" x2="475.50" y2="458.90" stroke="#1a1a1a" stroke-width="0.8"/>
<line x1="468.80" y1="461.60" x2="477.90" y2="461.60" stroke="#222" stroke-width="1.4"/>
<text x="473.20" y="470.30" font-size="6.6" text-anchor="middle" fill="#1a1a1a" stroke="#1a1a1a" stroke-width="0.16">SPL</text>
<rect x="468.20" y="386.70" width="3.0" height="5.20" rx="1.2" fill="#6a5020"/>
<line x1="467.20" y1="389.00" x2="472.20" y2="389.00" stroke="#6a5020" stroke-width="1.1"/>
<line x1="475.50" y1="370.50" x2="475.50" y2="398.80" stroke="#5a4a20" stroke-width="0.8"/>
<rect x="474.00" y="385.00" width="3.0" height="2.50" rx="1.2" fill="#5a4a20"/>
<circle cx="475.50" cy="370.70" r="1.35" fill="#5a4a20"/>
<circle cx="475.50" cy="398.60" r="1.35" fill="#5a4a20"/>
<line x1="473.00" y1="386.10" x2="478.00" y2="386.10" stroke="#3a2a10" stroke-width="1.1"/>
<path d="M437.80 472.3 V474.0 H480.00 V472.3" fill="none" stroke="#333" stroke-width="1.2"/>
<text x="460.50" y="483.00" font-size="6.6" text-anchor="middle" fill="#1a1a1a" stroke="#1a1a1a" stroke-width="0.16">KO + <tspan font-style="italic">Pafah1b3</tspan></text>
<text x="485.30" y="459.60" font-size="6.2" text-anchor="start" fill="#1a1a1a" stroke="#1a1a1a" stroke-width="0.16">- before tx</text>
<text x="485.30" y="467.00" font-size="6.2" text-anchor="start" fill="#1a1a1a" stroke="#1a1a1a" stroke-width="0.16">+ after tx</text>
<path d="M366.90 380.40 V361.50 H372.70 V364.00" fill="none" stroke="#111" stroke-width="1.1"/>
<text x="369.80" y="361.80" font-size="5.8" text-anchor="middle" fill="#111" stroke="#111" stroke-width="0.15">****</text>
<path d="M455.40 380.90 V350.40 H462.00 V352.60" fill="none" stroke="#111" stroke-width="1.1"/>
<text x="458.80" y="351.30" font-size="5.8" text-anchor="middle" fill="#111" stroke="#111" stroke-width="0.15">**</text>
<text x="476.40" y="349.30" font-size="5.8" text-anchor="start" fill="#1a1a1a" textLength="25.50" lengthAdjust="spacingAndGlyphs">** p &lt; 0.01</text>
<text x="476.40" y="355.80" font-size="5.8" text-anchor="start" fill="#1a1a1a" textLength="35.60" lengthAdjust="spacingAndGlyphs">**** p &lt; 0.0001</text>
<text x="476.20" y="414.10" font-size="5.8" text-anchor="start" fill="#1a1a1a" textLength="23.20" lengthAdjust="spacingAndGlyphs">N.S. if not</text>
<text x="476.20" y="420.30" font-size="5.8" text-anchor="start" fill="#1a1a1a" textLength="22.60" lengthAdjust="spacingAndGlyphs">otherwise</text>
<text x="476.20" y="426.80" font-size="5.8" text-anchor="start" fill="#1a1a1a" textLength="13.80" lengthAdjust="spacingAndGlyphs">noted</text>
</svg></body></html>
